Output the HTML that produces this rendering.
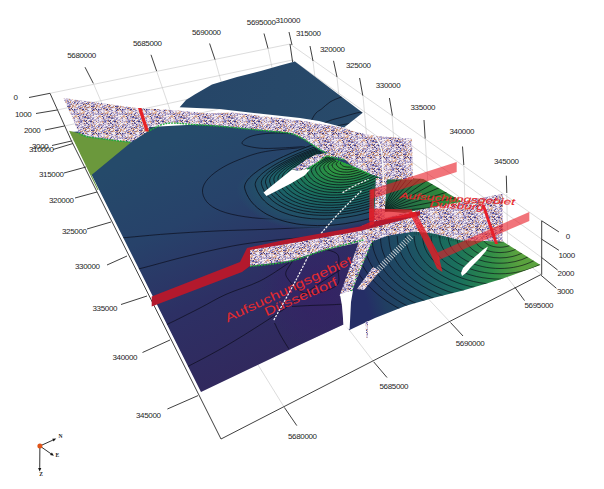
<!DOCTYPE html>
<html><head><meta charset="utf-8"><style>
html,body{margin:0;padding:0;background:#fff;}
svg{display:block;font-family:"Liberation Sans",sans-serif;}
</style></head><body>
<svg width="604" height="489" viewBox="0 0 604 489">
<rect width="604" height="489" fill="#fff"/>
<defs><clipPath id="cUP"><polygon points="179.7,107.2 186,100 194.7,94.4 212,84.4 237,77 261.7,70.8 280,65.5 294.9,61.5 362.7,112.7 344,127.5 319,121 300,118 259,113.5 219.5,109"/></clipPath><clipPath id="cMAIN"><polygon points="70,132 150,127 205,124 280,124 330,135 370,150 386,176 380,200 374,236 364,235 342,293.5 343.5,324.5 300,344.7 201,392"/></clipPath><clipPath id="cRR"><polygon points="195,122 270,131 286.6,132.5 299.8,136.6 309.7,143.2 318,149.8 324.6,154 336.2,159.8 352.8,166.4 370,173.8 385.6,179.5 380,200 374,224 369,223 287,240 247,246 195,246"/></clipPath><clipPath id="cRIGHT"><polygon points="349,330.3 347,300 352,290 372,239 376,238 388,233.5 413,229.5 434,233.6 460.7,240.2 503,241.5 540.5,265 500,279.5 463,290.5 435,297.5 406,305.7 375,318"/></clipPath><clipPath id="cDG"><polygon points="372,186 384,176.6 423.3,178.9 462.7,202 411.7,213.7 388.5,211.4 372,212"/></clipPath></defs>
<defs><pattern id="sp" width="24" height="24" patternUnits="userSpaceOnUse"><path d="M1 0h1v1h-1zM3 0h1v1h-1zM15 0h1v1h-1zM16 0h1v1h-1zM1 1h1v1h-1zM22 1h2v1h-2zM3 2h1v1h-1zM5 2h1v1h-1zM11 2h1v1h-1zM12 2h1v1h-1zM4 3h1v1h-1zM6 3h1v1h-1zM8 3h2v1h-2zM16 3h1v1h-1zM23 3h1v1h-1zM10 4h1v1h-1zM14 4h2v1h-2zM0 5h1v1h-1zM23 5h1v1h-1zM4 6h1v1h-1zM7 6h1v1h-1zM8 6h1v1h-1zM12 6h1v1h-1zM13 6h1v1h-1zM23 6h1v1h-1zM0 7h1v1h-1zM4 7h1v1h-1zM17 7h2v1h-2zM2 8h1v1h-1zM7 8h2v1h-2zM9 8h2v1h-2zM14 8h1v1h-1zM18 8h1v1h-1zM20 8h1v1h-1zM2 9h1v1h-1zM7 9h1v1h-1zM12 9h1v1h-1zM9 10h1v1h-1zM14 10h1v1h-1zM15 10h1v1h-1zM23 10h1v1h-1zM1 11h1v1h-1zM19 11h1v1h-1zM22 11h1v1h-1zM1 12h1v1h-1zM3 12h1v1h-1zM4 12h1v1h-1zM6 12h1v1h-1zM16 12h1v1h-1zM17 12h1v1h-1zM1 13h1v1h-1zM6 13h1v1h-1zM12 13h1v1h-1zM5 14h1v1h-1zM6 14h1v1h-1zM13 14h1v1h-1zM14 14h1v1h-1zM17 14h2v1h-2zM23 14h1v1h-1zM0 15h1v1h-1zM5 15h1v1h-1zM16 15h2v1h-2zM23 15h1v1h-1zM1 16h1v1h-1zM3 16h1v1h-1zM9 16h1v1h-1zM18 16h1v1h-1zM22 16h1v1h-1zM13 17h1v1h-1zM16 17h1v1h-1zM18 17h1v1h-1zM15 18h2v1h-2zM17 18h1v1h-1zM19 18h2v1h-2zM2 19h1v1h-1zM12 19h2v1h-2zM1 20h1v1h-1zM9 20h1v1h-1zM14 20h1v1h-1zM17 20h1v1h-1zM22 20h1v1h-1zM23 20h1v1h-1zM5 21h1v1h-1zM6 21h1v1h-1zM9 21h1v1h-1zM23 21h1v1h-1zM1 23h1v1h-1zM3 23h1v1h-1zM4 23h2v1h-2zM10 23h1v1h-1zM13 23h2v1h-2z" fill="#e8dee8"/><path d="M0 0h1v1h-1zM5 0h1v1h-1zM6 0h2v1h-2zM2 1h2v1h-2zM10 1h1v1h-1zM21 1h1v1h-1zM10 2h1v1h-1zM16 2h1v1h-1zM22 2h2v1h-2zM3 3h1v1h-1zM10 3h1v1h-1zM17 3h1v1h-1zM18 3h1v1h-1zM19 3h1v1h-1zM20 3h1v1h-1zM22 3h1v1h-1zM6 4h2v1h-2zM11 4h1v1h-1zM20 4h1v1h-1zM21 4h1v1h-1zM9 5h1v1h-1zM14 5h2v1h-2zM5 6h1v1h-1zM9 6h1v1h-1zM19 6h1v1h-1zM3 7h1v1h-1zM6 7h1v1h-1zM7 7h1v1h-1zM21 7h2v1h-2zM0 8h1v1h-1zM1 8h1v1h-1zM3 8h1v1h-1zM19 8h1v1h-1zM6 9h1v1h-1zM10 9h1v1h-1zM17 9h1v1h-1zM19 9h1v1h-1zM16 10h1v1h-1zM2 11h1v1h-1zM7 11h1v1h-1zM2 12h1v1h-1zM10 12h1v1h-1zM12 12h1v1h-1zM15 12h1v1h-1zM4 14h1v1h-1zM7 14h2v1h-2zM19 14h1v1h-1zM3 15h1v1h-1zM7 15h1v1h-1zM8 15h1v1h-1zM14 15h2v1h-2zM18 15h1v1h-1zM20 15h1v1h-1zM21 15h1v1h-1zM4 16h1v1h-1zM7 16h1v1h-1zM23 16h1v1h-1zM0 17h1v1h-1zM12 17h1v1h-1zM1 18h1v1h-1zM3 18h1v1h-1zM7 18h1v1h-1zM10 18h1v1h-1zM12 18h1v1h-1zM22 18h1v1h-1zM9 19h2v1h-2zM7 20h2v1h-2zM19 20h1v1h-1zM3 21h1v1h-1zM8 21h1v1h-1zM20 21h1v1h-1zM22 21h1v1h-1zM8 22h1v1h-1zM9 22h1v1h-1zM11 22h1v1h-1zM0 23h1v1h-1zM2 23h1v1h-1zM6 23h1v1h-1zM11 23h1v1h-1zM15 23h1v1h-1zM21 23h1v1h-1zM22 23h1v1h-1z" fill="#d0c4de"/><path d="M13 0h1v1h-1zM22 0h1v1h-1zM23 0h1v1h-1zM4 1h2v1h-2zM1 2h1v1h-1zM2 2h1v1h-1zM18 2h1v1h-1zM19 2h1v1h-1zM8 4h2v1h-2zM13 4h1v1h-1zM17 4h1v1h-1zM22 4h2v1h-2zM1 5h1v1h-1zM2 5h1v1h-1zM4 5h2v1h-2zM6 5h1v1h-1zM16 5h2v1h-2zM11 6h1v1h-1zM8 7h1v1h-1zM13 7h1v1h-1zM15 7h1v1h-1zM23 7h1v1h-1zM5 8h1v1h-1zM20 9h1v1h-1zM22 9h1v1h-1zM1 10h1v1h-1zM8 10h1v1h-1zM4 11h2v1h-2zM9 12h1v1h-1zM11 12h1v1h-1zM14 12h1v1h-1zM21 12h1v1h-1zM15 13h1v1h-1zM20 13h1v1h-1zM3 14h1v1h-1zM11 14h1v1h-1zM12 14h1v1h-1zM4 15h1v1h-1zM15 16h1v1h-1zM1 17h2v1h-2zM3 17h1v1h-1zM4 17h1v1h-1zM8 17h1v1h-1zM14 17h1v1h-1zM17 17h1v1h-1zM19 17h1v1h-1zM20 17h2v1h-2zM23 17h1v1h-1zM4 18h1v1h-1zM23 18h1v1h-1zM16 19h1v1h-1zM17 19h1v1h-1zM18 19h1v1h-1zM20 19h1v1h-1zM0 20h1v1h-1zM15 20h1v1h-1zM16 20h1v1h-1zM2 21h1v1h-1zM10 21h2v1h-2zM17 21h2v1h-2zM19 21h1v1h-1zM21 21h1v1h-1zM1 22h1v1h-1zM10 22h1v1h-1zM18 22h1v1h-1zM7 23h1v1h-1zM12 23h1v1h-1zM18 23h1v1h-1zM19 23h1v1h-1zM23 23h1v1h-1z" fill="#b4a6c8"/><path d="M2 0h1v1h-1zM8 0h1v1h-1zM9 0h2v1h-2zM18 0h2v1h-2zM7 1h1v1h-1zM8 1h1v1h-1zM16 1h2v1h-2zM8 2h1v1h-1zM9 2h1v1h-1zM3 4h2v1h-2zM19 4h1v1h-1zM7 5h1v1h-1zM12 5h2v1h-2zM19 5h1v1h-1zM0 6h1v1h-1zM3 6h1v1h-1zM6 6h1v1h-1zM10 6h1v1h-1zM16 6h1v1h-1zM20 6h1v1h-1zM21 6h1v1h-1zM2 7h1v1h-1zM9 7h2v1h-2zM12 7h1v1h-1zM19 7h2v1h-2zM15 8h1v1h-1zM21 8h2v1h-2zM8 9h2v1h-2zM21 9h1v1h-1zM6 10h2v1h-2zM12 10h1v1h-1zM6 11h1v1h-1zM10 11h1v1h-1zM14 11h1v1h-1zM19 12h2v1h-2zM3 13h2v1h-2zM5 13h1v1h-1zM22 13h1v1h-1zM1 14h2v1h-2zM15 14h2v1h-2zM2 15h1v1h-1zM13 15h1v1h-1zM19 15h1v1h-1zM5 16h1v1h-1zM16 16h1v1h-1zM20 16h2v1h-2zM7 17h1v1h-1zM0 18h1v1h-1zM2 18h1v1h-1zM9 18h1v1h-1zM18 18h1v1h-1zM21 18h1v1h-1zM8 19h1v1h-1zM21 19h1v1h-1zM11 20h2v1h-2zM14 21h2v1h-2zM2 22h1v1h-1zM17 22h1v1h-1zM20 22h1v1h-1zM21 22h1v1h-1zM8 23h1v1h-1zM20 23h1v1h-1z" fill="#9088bc"/><path d="M12 0h1v1h-1zM9 1h1v1h-1zM14 2h1v1h-1zM21 2h1v1h-1zM7 3h1v1h-1zM12 3h1v1h-1zM14 3h2v1h-2zM2 6h1v1h-1zM16 7h1v1h-1zM13 10h1v1h-1zM20 10h1v1h-1zM21 10h1v1h-1zM7 12h2v1h-2zM2 16h1v1h-1zM15 17h1v1h-1zM5 18h2v1h-2zM11 18h1v1h-1zM14 18h1v1h-1zM7 21h1v1h-1zM12 21h2v1h-2zM7 22h1v1h-1zM15 22h2v1h-2z" fill="#5c58a0"/><path d="M14 0h1v1h-1zM13 1h1v1h-1zM18 1h2v1h-2zM16 4h1v1h-1zM5 7h1v1h-1zM14 7h1v1h-1zM11 8h1v1h-1zM19 10h1v1h-1zM23 12h1v1h-1zM0 13h1v1h-1zM2 13h1v1h-1zM10 13h2v1h-2zM21 13h1v1h-1zM20 14h1v1h-1zM6 20h1v1h-1zM13 20h1v1h-1z" fill="#3c3880"/><path d="M21 0h1v1h-1zM11 1h1v1h-1zM14 1h1v1h-1zM4 2h1v1h-1zM6 2h1v1h-1zM7 2h1v1h-1zM15 2h1v1h-1zM20 2h1v1h-1zM0 3h1v1h-1zM11 3h1v1h-1zM13 3h1v1h-1zM2 4h1v1h-1zM12 4h1v1h-1zM18 4h1v1h-1zM18 5h1v1h-1zM18 6h1v1h-1zM11 7h1v1h-1zM6 8h1v1h-1zM3 9h2v1h-2zM11 9h1v1h-1zM18 9h1v1h-1zM2 10h2v1h-2zM10 10h2v1h-2zM3 11h1v1h-1zM13 11h1v1h-1zM17 11h2v1h-2zM23 11h1v1h-1zM13 12h1v1h-1zM22 12h1v1h-1zM7 13h1v1h-1zM8 13h2v1h-2zM19 13h1v1h-1zM23 13h1v1h-1zM0 14h1v1h-1zM9 14h1v1h-1zM11 15h2v1h-2zM8 16h1v1h-1zM10 16h1v1h-1zM11 16h2v1h-2zM17 16h1v1h-1zM19 16h1v1h-1zM5 17h1v1h-1zM10 17h1v1h-1zM22 17h1v1h-1zM8 18h1v1h-1zM13 18h1v1h-1zM3 19h2v1h-2zM11 19h1v1h-1zM19 19h1v1h-1zM2 20h1v1h-1zM4 20h2v1h-2zM4 21h1v1h-1zM0 22h1v1h-1zM5 22h1v1h-1zM6 22h1v1h-1zM12 22h1v1h-1zM13 22h2v1h-2zM9 23h1v1h-1z" fill="#e0b6a2"/><path d="M11 0h1v1h-1zM17 0h1v1h-1zM6 1h1v1h-1zM12 1h1v1h-1zM20 1h1v1h-1zM21 3h1v1h-1zM5 4h1v1h-1zM3 5h1v1h-1zM22 5h1v1h-1zM15 6h1v1h-1zM22 6h1v1h-1zM1 7h1v1h-1zM12 8h2v1h-2zM16 8h2v1h-2zM0 9h1v1h-1zM1 9h1v1h-1zM14 9h1v1h-1zM0 10h1v1h-1zM17 10h1v1h-1zM0 11h1v1h-1zM8 11h2v1h-2zM12 11h1v1h-1zM20 11h1v1h-1zM5 12h1v1h-1zM21 14h2v1h-2zM1 15h1v1h-1zM6 17h1v1h-1zM9 17h1v1h-1zM11 17h1v1h-1zM7 19h1v1h-1zM15 19h1v1h-1zM3 20h1v1h-1zM18 20h1v1h-1zM1 21h1v1h-1z" fill="#c89276"/><path d="M0 1h1v1h-1zM20 5h1v1h-1zM17 6h1v1h-1zM4 8h1v1h-1zM23 8h1v1h-1zM13 9h1v1h-1zM22 10h1v1h-1zM15 11h2v1h-2zM21 11h1v1h-1zM13 13h2v1h-2zM10 14h1v1h-1zM14 19h1v1h-1zM10 20h1v1h-1zM16 21h1v1h-1z" fill="#a8786c"/><path d="M4 0h1v1h-1zM20 0h1v1h-1zM15 1h1v1h-1zM0 2h1v1h-1zM13 2h1v1h-1zM17 2h1v1h-1zM1 3h1v1h-1zM2 3h1v1h-1zM5 3h1v1h-1zM0 4h2v1h-2zM8 5h1v1h-1zM10 5h1v1h-1zM11 5h1v1h-1zM21 5h1v1h-1zM1 6h1v1h-1zM14 6h1v1h-1zM5 9h1v1h-1zM15 9h2v1h-2zM23 9h1v1h-1zM4 10h2v1h-2zM18 10h1v1h-1zM11 11h1v1h-1zM0 12h1v1h-1zM18 12h1v1h-1zM16 13h1v1h-1zM17 13h2v1h-2zM6 15h1v1h-1zM9 15h2v1h-2zM22 15h1v1h-1zM0 16h1v1h-1zM6 16h1v1h-1zM13 16h1v1h-1zM14 16h1v1h-1zM0 19h2v1h-2zM5 19h1v1h-1zM6 19h1v1h-1zM22 19h2v1h-2zM20 20h2v1h-2zM0 21h1v1h-1zM3 22h2v1h-2zM19 22h1v1h-1zM22 22h1v1h-1zM23 22h1v1h-1zM16 23h2v1h-2z" fill="#f6f0f2"/></pattern>
<linearGradient id="gMain" gradientUnits="userSpaceOnUse" x1="150" y1="150" x2="260" y2="390">
 <stop offset="0" stop-color="#254a6a"/>
 <stop offset="0.3" stop-color="#27426a"/>
 <stop offset="0.6" stop-color="#2d3064"/>
 <stop offset="1" stop-color="#32275c"/>
</linearGradient>
<linearGradient id="gRight" gradientUnits="userSpaceOnUse" x1="362" y1="285" x2="515" y2="245">
 <stop offset="0" stop-color="#252e66"/>
 <stop offset="0.11" stop-color="#213e62"/>
 <stop offset="0.34" stop-color="#1d5064"/>
 <stop offset="0.61" stop-color="#1a705c"/>
 <stop offset="0.82" stop-color="#2e8c48"/>
 <stop offset="1" stop-color="#5aa23e"/>
</linearGradient>
<linearGradient id="gMidG" gradientUnits="userSpaceOnUse" x1="280" y1="215" x2="370" y2="160">
 <stop offset="0" stop-color="#1c4a5c"/>
 <stop offset="0.5" stop-color="#1d6a4e"/>
 <stop offset="1" stop-color="#3a8a36"/>
</linearGradient>
<linearGradient id="gUp" gradientUnits="userSpaceOnUse" x1="200" y1="80" x2="350" y2="125">
 <stop offset="0" stop-color="#264668"/>
 <stop offset="1" stop-color="#284a6a"/>
</linearGradient>
<radialGradient id="gBowlL" gradientUnits="userSpaceOnUse" cx="352" cy="160" r="120" gradientTransform="translate(352 160) rotate(-15) scale(1 0.55) translate(-352 -160)">
 <stop offset="0" stop-color="#3aa040"/>
 <stop offset="0.2" stop-color="#2c9442"/>
 <stop offset="0.36" stop-color="#1f8050"/>
 <stop offset="0.52" stop-color="#1a6e60"/>
 <stop offset="0.67" stop-color="#1c6068"/>
 <stop offset="0.82" stop-color="#225068"/>
 <stop offset="0.93" stop-color="#244969" stop-opacity="0.75"/>
 <stop offset="1" stop-color="#254a6a" stop-opacity="0"/>
</radialGradient><radialGradient id="gBowlU" gradientUnits="userSpaceOnUse" cx="352" cy="160" r="120" gradientTransform="translate(352 160) rotate(-15) scale(1 0.235) translate(-352 -160)">
 <stop offset="0" stop-color="#3aa040"/>
 <stop offset="0.2" stop-color="#2c9442"/>
 <stop offset="0.36" stop-color="#1f8050"/>
 <stop offset="0.52" stop-color="#1a6e60"/>
 <stop offset="0.67" stop-color="#1c6068"/>
 <stop offset="0.82" stop-color="#225068"/>
 <stop offset="0.93" stop-color="#244969" stop-opacity="0.75"/>
 <stop offset="1" stop-color="#254a6a" stop-opacity="0"/>
</radialGradient>
<linearGradient id="gRG" gradientUnits="userSpaceOnUse" x1="500" y1="245" x2="520" y2="275">
 <stop offset="0" stop-color="#8ab040"/>
 <stop offset="1" stop-color="#3a8a40"/>
</linearGradient>
<linearGradient id="gDG" gradientUnits="userSpaceOnUse" x1="380" y1="210" x2="440" y2="185">
 <stop offset="0" stop-color="#1d5c50"/>
 <stop offset="1" stop-color="#2f8a3a"/>
</linearGradient>
<radialGradient id="gViol" gradientUnits="userSpaceOnUse" cx="318" cy="290" r="62">
 <stop offset="0" stop-color="#381e66" stop-opacity="0.7"/>
 <stop offset="0.6" stop-color="#352266" stop-opacity="0.45"/>
 <stop offset="1" stop-color="#322466" stop-opacity="0"/>
</radialGradient>
<filter id="blr" x="-5%" y="-5%" width="110%" height="110%"><feGaussianBlur stdDeviation="0.35"/></filter>
<radialGradient id="gTeal" gradientUnits="userSpaceOnUse" cx="322" cy="154" r="30">
 <stop offset="0" stop-color="#1f6a52" stop-opacity="0.95"/>
 <stop offset="0.5" stop-color="#1d5458" stop-opacity="0.6"/>
 <stop offset="1" stop-color="#1f3d5f" stop-opacity="0"/>
</radialGradient>
</defs><line x1="50" y1="93.3" x2="290" y2="44" stroke="#c4c4c4" stroke-width="0.6" /><line x1="57.2" y1="110" x2="292.5" y2="60" stroke="#c4c4c4" stroke-width="0.6" /><line x1="64.4" y1="126" x2="295" y2="76" stroke="#c4c4c4" stroke-width="0.6" /><line x1="71.5" y1="141" x2="297.5" y2="92" stroke="#c4c4c4" stroke-width="0.6" /><line x1="290" y1="44" x2="541.7" y2="220.8" stroke="#c4c4c4" stroke-width="0.6" /><line x1="292.5" y1="60" x2="541.7" y2="239.2" stroke="#c4c4c4" stroke-width="0.6" /><line x1="295" y1="76" x2="541.7" y2="257.6" stroke="#c4c4c4" stroke-width="0.6" /><line x1="297.5" y1="92" x2="541.7" y2="274.8" stroke="#c4c4c4" stroke-width="0.6" /><line x1="93.3" y1="83.3" x2="113.8" y2="131.3" stroke="#c4c4c4" stroke-width="0.6" /><line x1="156.6" y1="71" x2="173.1" y2="119" stroke="#c4c4c4" stroke-width="0.6" /><line x1="215" y1="59.6" x2="228.3" y2="107.6" stroke="#c4c4c4" stroke-width="0.6" /><line x1="268" y1="48.4" x2="278" y2="96.4" stroke="#c4c4c4" stroke-width="0.6" /><line x1="313" y1="61" x2="319" y2="111" stroke="#c4c4c4" stroke-width="0.6" /><line x1="337" y1="77" x2="342" y2="127" stroke="#c4c4c4" stroke-width="0.6" /><line x1="363" y1="96" x2="367.5" y2="146" stroke="#c4c4c4" stroke-width="0.6" /><line x1="392" y1="115" x2="395.5" y2="165" stroke="#c4c4c4" stroke-width="0.6" /><line x1="425.2" y1="138.5" x2="428.2" y2="188.5" stroke="#c4c4c4" stroke-width="0.6" /><line x1="463.8" y1="165.5" x2="465.3" y2="215.5" stroke="#c4c4c4" stroke-width="0.6" /><line x1="506.8" y1="194" x2="507.6" y2="244" stroke="#c4c4c4" stroke-width="0.6" /><line x1="255" y1="360" x2="284.4" y2="407.5" stroke="#c4c4c4" stroke-width="0.6" /><line x1="340" y1="318" x2="373.8" y2="362" stroke="#c4c4c4" stroke-width="0.6" /><line x1="420" y1="290" x2="450.5" y2="322.5" stroke="#c4c4c4" stroke-width="0.6" /><line x1="500" y1="268" x2="514.7" y2="287" stroke="#c4c4c4" stroke-width="0.6" /><line x1="50" y1="93.3" x2="71.5" y2="141" stroke="#2a2a2a" stroke-width="0.9" /><line x1="71.5" y1="141" x2="221" y2="439" stroke="#2a2a2a" stroke-width="0.9" /><line x1="221" y1="439" x2="540.5" y2="274.8" stroke="#2a2a2a" stroke-width="0.9" /><line x1="541.7" y1="220.8" x2="541.7" y2="274.8" stroke="#2a2a2a" stroke-width="0.9" /><line x1="290" y1="44" x2="292.6" y2="62" stroke="#2a2a2a" stroke-width="0.9" /><line x1="29" y1="97.5" x2="50" y2="93.3" stroke="#2a2a2a" stroke-width="0.9" /><line x1="36" y1="113.5" x2="57.2" y2="110" stroke="#2a2a2a" stroke-width="0.9" /><line x1="45" y1="130" x2="64.4" y2="126" stroke="#2a2a2a" stroke-width="0.9" /><line x1="52" y1="145.5" x2="71.5" y2="141" stroke="#2a2a2a" stroke-width="0.9" /><line x1="53" y1="149.5" x2="73" y2="143.5" stroke="#2a2a2a" stroke-width="0.9" /><line x1="64" y1="173" x2="86" y2="167" stroke="#2a2a2a" stroke-width="0.9" /><line x1="75" y1="198" x2="97" y2="192" stroke="#2a2a2a" stroke-width="0.9" /><line x1="87" y1="229" x2="111" y2="222" stroke="#2a2a2a" stroke-width="0.9" /><line x1="107" y1="265" x2="127" y2="256" stroke="#2a2a2a" stroke-width="0.9" /><line x1="121" y1="304.5" x2="147" y2="296" stroke="#2a2a2a" stroke-width="0.9" /><line x1="142.5" y1="352.5" x2="170" y2="340" stroke="#2a2a2a" stroke-width="0.9" /><line x1="167.4" y1="409" x2="198" y2="395.6" stroke="#2a2a2a" stroke-width="0.9" /><line x1="284.4" y1="407.5" x2="296.8" y2="425.6" stroke="#2a2a2a" stroke-width="0.9" /><line x1="373.8" y1="362" x2="387" y2="377.5" stroke="#2a2a2a" stroke-width="0.9" /><line x1="450.5" y1="322.5" x2="463" y2="336" stroke="#2a2a2a" stroke-width="0.9" /><line x1="514.7" y1="287" x2="524.5" y2="300.6" stroke="#2a2a2a" stroke-width="0.9" /><line x1="541.7" y1="220.8" x2="558.9" y2="231.9" stroke="#2a2a2a" stroke-width="0.9" /><line x1="541.7" y1="239.2" x2="558.9" y2="250.3" stroke="#2a2a2a" stroke-width="0.9" /><line x1="541.7" y1="257.6" x2="557.6" y2="270" stroke="#2a2a2a" stroke-width="0.9" /><line x1="540.5" y1="274.8" x2="556.4" y2="288.3" stroke="#2a2a2a" stroke-width="0.9" /><line x1="85" y1="67.2" x2="93.3" y2="83.3" stroke="#2a2a2a" stroke-width="0.9" /><line x1="151" y1="54.8" x2="156.6" y2="71" stroke="#2a2a2a" stroke-width="0.9" /><line x1="209.6" y1="43.5" x2="215" y2="59.6" stroke="#2a2a2a" stroke-width="0.9" /><line x1="264" y1="33.5" x2="268" y2="48.4" stroke="#2a2a2a" stroke-width="0.9" /><line x1="289" y1="32" x2="292" y2="45" stroke="#2a2a2a" stroke-width="0.9" /><line x1="310" y1="46" x2="313" y2="61" stroke="#2a2a2a" stroke-width="0.9" /><line x1="333.5" y1="60.8" x2="337" y2="77" stroke="#2a2a2a" stroke-width="0.9" /><line x1="359.6" y1="78" x2="362.8" y2="95.6" stroke="#2a2a2a" stroke-width="0.9" /><line x1="389.4" y1="98" x2="392.4" y2="115.5" stroke="#2a2a2a" stroke-width="0.9" /><line x1="424" y1="120" x2="425.2" y2="138.5" stroke="#2a2a2a" stroke-width="0.9" /><line x1="462.5" y1="146.5" x2="463.8" y2="165" stroke="#2a2a2a" stroke-width="0.9" /><line x1="506.3" y1="175.7" x2="506.8" y2="193" stroke="#2a2a2a" stroke-width="0.9" /><polygon points="179.7,107.2 186,100 194.7,94.4 212,84.4 237,77 261.7,70.8 280,65.5 294.9,61.5 362.7,112.7 344,127.5 319,121 300,118 259,113.5 219.5,109" fill="url(#gUp)" /><g clip-path="url(#cUP)"><path d="M311.0,121.0 C311.8,119.7 314.2,115.0 316.0,113.0 C317.8,111.0 319.5,110.6 321.8,108.8 C324.1,107.0 326.8,104.0 330.0,102.0 C333.2,100.0 337.5,98.5 341.2,97.0 C344.9,95.5 350.2,93.7 352.0,93.0" fill="none" stroke="#0a0a14" stroke-width="0.7" stroke-opacity="0.9"/><path d="M321.8,124.5 C323.2,123.8 326.8,121.7 330.0,120.5 C333.2,119.3 336.8,118.6 341.2,117.4 C345.6,116.2 351.7,114.2 356.2,113.1 C360.7,112.0 366.0,111.3 368.0,111.0" fill="none" stroke="#0a0a14" stroke-width="0.7" stroke-opacity="0.9"/><path d="M334.7,127.0 C335.8,126.7 338.9,125.5 341.0,125.0 C343.1,124.5 344.4,124.4 347.6,123.9 C350.8,123.4 357.9,122.3 360.0,122.0" fill="none" stroke="#0a0a14" stroke-width="0.7" stroke-opacity="0.9"/></g><polygon points="70,132 150,127 205,124 280,124 330,135 370,150 386,176 380,200 374,236 364,235 342,293.5 343.5,324.5 300,344.7 201,392" fill="url(#gMain)" /><polygon points="255,250 345,228 372,236 342,293.5 343.5,324.5 300,344.7 250,352" fill="url(#gViol)" /><g clip-path="url(#cMAIN)"><path d="M305.0,135.0 C301.7,134.7 292.0,133.4 285.4,133.2 C278.8,132.9 271.7,132.9 265.6,133.5 C259.5,134.1 252.9,135.2 249.0,137.0 C245.1,138.8 240.7,142.2 242.4,144.0 C244.1,145.8 252.9,147.4 259.0,148.1 C265.1,148.8 271.1,148.4 278.8,148.1 C286.5,147.8 300.6,146.8 305.0,146.5" fill="none" stroke="#0a0a14" stroke-width="0.7" stroke-opacity="0.9"/><path d="M310.0,147.0 C302.6,147.8 277.4,149.4 265.6,151.5 C253.8,153.6 246.8,156.7 239.0,159.7 C231.2,162.7 224.5,166.1 219.0,169.7 C213.5,173.3 208.7,177.5 206.0,181.3 C203.3,185.2 202.0,189.0 202.6,192.8 C203.2,196.7 205.4,201.1 209.3,204.4 C213.2,207.7 218.6,210.5 225.8,212.7 C233.0,214.9 242.9,216.6 252.3,217.7 C261.7,218.8 270.7,218.9 282.0,219.3 C293.3,219.7 313.7,219.9 320.0,220.0" fill="none" stroke="#0a0a14" stroke-width="0.7" stroke-opacity="0.9"/><path d="M110.0,239.0 C112.8,238.8 117.2,238.3 126.5,237.5 C135.8,236.7 151.1,235.1 166.0,234.0 C180.9,232.9 199.4,231.8 216.0,231.0 C232.6,230.2 248.3,230.0 265.6,229.3 C282.9,228.6 310.9,227.4 320.0,227.0" fill="none" stroke="#0a0a14" stroke-width="0.7" stroke-opacity="0.9"/><path d="M125.0,271.0 C127.5,270.6 130.3,270.9 140.0,268.6 C149.7,266.3 167.6,261.0 183.0,257.2 C198.4,253.4 217.1,248.9 232.5,246.0 C247.9,243.1 264.2,241.3 275.5,240.0 C286.8,238.7 295.9,238.3 300.0,238.0" fill="none" stroke="#0a0a14" stroke-width="0.7" stroke-opacity="0.9"/><path d="M150.0,331.0 C152.8,329.9 158.7,328.2 167.0,324.4 C175.3,320.6 190.2,313.0 200.0,308.0 C209.8,303.0 215.9,298.9 225.9,294.4 C235.9,289.9 249.5,286.2 260.0,281.0 C270.5,275.8 284.0,266.0 288.8,263.0" fill="none" stroke="#0a0a14" stroke-width="0.7" stroke-opacity="0.9"/><path d="M175.0,372.0 C177.3,371.0 180.2,370.3 188.7,366.0 C197.2,361.7 213.5,353.2 225.9,346.0 C238.3,338.8 252.5,329.7 263.0,323.0 C273.5,316.3 281.0,311.3 288.8,305.8 C296.6,300.3 301.5,296.0 310.0,290.0 C318.5,284.0 335.0,273.3 340.0,270.0" fill="none" stroke="#0a0a14" stroke-width="0.7" stroke-opacity="0.9"/><path d="M274.5,323.0 C275.6,325.2 278.6,331.7 281.0,336.0 C283.4,340.3 287.5,346.7 288.8,348.8" fill="none" stroke="#0a0a14" stroke-width="0.7" stroke-opacity="0.9"/><path d="M292.0,306.5 C295.0,306.3 303.7,305.8 310.0,305.5 C316.3,305.2 324.2,305.1 330.0,304.8 C335.8,304.6 342.5,304.1 345.0,304.0" fill="none" stroke="#0a0a14" stroke-width="0.7" stroke-opacity="0.9"/><path d="M288.0,268.0 C291.1,263.1 298.6,251.9 306.6,249.4 C314.6,246.9 330.8,249.6 336.0,253.0 C341.2,256.4 338.0,264.5 338.0,270.0 C338.0,275.5 341.2,282.1 336.0,286.0 C330.8,289.9 314.6,294.8 306.6,293.6 C298.6,292.4 291.1,283.3 288.0,279.0 C284.9,274.7 284.9,272.9 288.0,268.0Z" fill="none" stroke="#0a0a14" stroke-width="0.7" stroke-opacity="0.9"/></g><g transform="translate(227.5 322.5) rotate(-25.3)"><text x="0" y="0" font-size="12.3" fill="#e42a2e" transform="scale(1.33 1)">Aufsuchungsgebiet</text></g><g transform="translate(266.5 316.2) rotate(-23.5)"><text x="0" y="0" font-size="12.3" fill="#e42a2e" transform="scale(1.33 1)">Düsseldorf</text></g><polygon points="342.862,162.449 352.8,166.4 370,173.8 385.6,179.5 380,200 374,224 369,223 287,240 247,246 195,246 195,202.068" fill="url(#gBowlL)" /><polygon points="195,122 270,131 286.6,132.5 299.8,136.6 309.7,143.2 318,149.8 324.6,154 336.2,159.8 342.862,162.449 195,202.068" fill="url(#gBowlU)" /><g clip-path="url(#cRR)"><path d="M363.6,156.9 C363.6,157.0 363.7,157.3 363.7,157.6 C363.7,157.8 363.7,158.0 363.7,158.3 C363.7,158.5 363.6,158.8 363.6,159.0 C363.5,159.3 363.4,159.5 363.3,159.8 C363.2,160.0 363.0,160.3 362.9,160.5 C362.7,160.7 362.6,161.0 362.4,161.2 C362.2,161.5 362.0,161.7 361.8,162.0 C361.5,162.2 361.3,162.4 361.0,162.7 C360.8,162.9 360.5,163.1 360.2,163.3 C359.9,163.6 359.6,163.8 359.3,164.0 C359.0,164.2 358.6,164.4 358.3,164.6 C357.9,164.7 357.6,164.9 357.2,165.1 C356.8,165.3 356.5,165.4 356.1,165.6 C355.7,165.7 355.3,165.9 354.9,166.0 C354.5,166.1 354.1,166.3 353.7,166.4 C353.3,166.5 352.9,166.6 352.5,166.7 C352.1,166.7 351.7,166.8 351.3,166.9 C350.9,166.9 350.4,167.0 350.0,167.0 C349.6,167.1 349.2,167.1 348.8,167.1 C348.5,167.1 348.1,167.1 347.7,167.1 C347.3,167.1 346.9,167.0 346.6,167.0 C346.2,166.9 345.9,166.9 345.5,166.8 C345.2,166.7 344.8,166.7 344.5,166.6 C344.2,166.5 343.9,166.4 343.6,166.3 C343.3,166.1 343.1,166.0 342.8,165.9 C342.6,165.7 342.3,165.6 342.1,165.4 C341.9,165.3 341.7,165.1 341.5,164.9 C341.3,164.7 341.2,164.6 341.0,164.4 C340.9,164.2 340.8,164.0 340.7,163.8 C340.5,163.5 340.5,163.3 340.4,163.1 C340.4,162.9 340.4,162.9 340.4,162.8 C340.4,162.7 340.5,162.6 340.5,162.5 C340.6,162.4 340.7,162.2 340.8,162.1 C340.9,162.0 341.0,161.9 341.1,161.7 C341.3,161.6 341.4,161.5 341.6,161.3 C341.8,161.2 342.0,161.1 342.2,160.9 C342.4,160.8 342.6,160.6 342.9,160.5 C343.1,160.3 343.4,160.2 343.7,160.1 C344.0,159.9 344.3,159.8 344.6,159.6 C344.9,159.5 345.2,159.3 345.6,159.2 C345.9,159.1 346.3,158.9 346.6,158.8 C347.0,158.6 347.3,158.5 347.7,158.4 C348.1,158.2 348.5,158.1 348.9,158.0 C349.3,157.9 349.7,157.7 350.1,157.6 C350.5,157.5 350.9,157.4 351.3,157.3 C351.7,157.2 352.1,157.1 352.5,157.0 C352.9,156.9 353.3,156.8 353.7,156.7 C354.1,156.6 354.5,156.5 354.9,156.4 C355.3,156.4 355.7,156.3 356.0,156.2 C356.4,156.2 356.8,156.1 357.2,156.1 C357.5,156.0 357.9,156.0 358.2,156.0 C358.6,155.9 358.9,155.9 359.2,155.9 C359.5,155.9 359.8,155.9 360.1,155.9 C360.4,155.9 360.7,155.9 360.9,155.9 C361.2,155.9 361.4,155.9 361.7,155.9 C361.9,156.0 362.1,156.0 362.3,156.1 C362.5,156.1 362.6,156.1 362.8,156.2 C362.9,156.3 363.1,156.3 363.2,156.4 C363.3,156.5 363.4,156.5 363.5,156.6 C363.5,156.7 363.6,156.8 363.6,156.9" fill="none" stroke="#0a0a14" stroke-width="0.85" stroke-opacity="0.9"/><path d="M367.7,155.8 C367.8,155.9 367.9,156.4 367.9,156.7 C367.9,157.0 367.9,157.3 367.9,157.7 C367.8,158.0 367.8,158.3 367.7,158.7 C367.6,159.0 367.5,159.3 367.3,159.7 C367.2,160.0 367.0,160.3 366.8,160.7 C366.6,161.0 366.4,161.3 366.1,161.7 C365.8,162.0 365.6,162.3 365.3,162.7 C364.9,163.0 364.6,163.3 364.3,163.6 C363.9,163.9 363.5,164.2 363.1,164.5 C362.7,164.8 362.3,165.1 361.9,165.4 C361.4,165.7 361.0,165.9 360.5,166.2 C360.1,166.5 359.6,166.7 359.1,166.9 C358.6,167.2 358.1,167.4 357.5,167.6 C357.0,167.8 356.5,168.0 356.0,168.2 C355.4,168.3 354.9,168.5 354.3,168.7 C353.8,168.8 353.2,168.9 352.7,169.1 C352.1,169.2 351.5,169.3 351.0,169.3 C350.4,169.4 349.9,169.5 349.3,169.5 C348.8,169.6 348.2,169.6 347.7,169.6 C347.2,169.6 346.7,169.6 346.1,169.6 C345.6,169.6 345.1,169.5 344.6,169.5 C344.1,169.4 343.7,169.4 343.2,169.3 C342.7,169.2 342.3,169.1 341.9,168.9 C341.4,168.8 341.0,168.7 340.6,168.5 C340.2,168.3 339.9,168.2 339.5,168.0 C339.2,167.8 338.9,167.6 338.6,167.4 C338.3,167.2 338.0,166.9 337.7,166.7 C337.5,166.4 337.3,166.2 337.1,165.9 C336.9,165.7 336.7,165.4 336.6,165.1 C336.4,164.8 336.3,164.4 336.3,164.2 C336.2,164.0 336.2,164.0 336.2,163.8 C336.3,163.7 336.3,163.5 336.4,163.4 C336.5,163.2 336.6,163.0 336.7,162.9 C336.9,162.7 337.0,162.5 337.2,162.3 C337.4,162.2 337.6,162.0 337.9,161.8 C338.1,161.6 338.4,161.4 338.7,161.2 C339.0,161.0 339.3,160.9 339.6,160.7 C340.0,160.5 340.3,160.3 340.7,160.1 C341.1,159.9 341.5,159.7 341.9,159.5 C342.4,159.3 342.8,159.1 343.3,158.9 C343.7,158.7 344.2,158.5 344.7,158.3 C345.2,158.1 345.7,158.0 346.2,157.8 C346.7,157.6 347.2,157.4 347.8,157.3 C348.3,157.1 348.8,156.9 349.4,156.8 C349.9,156.6 350.5,156.4 351.0,156.3 C351.6,156.2 352.1,156.0 352.7,155.9 C353.2,155.7 353.8,155.6 354.3,155.5 C354.8,155.4 355.4,155.3 355.9,155.2 C356.5,155.1 357.0,155.0 357.5,154.9 C358.0,154.8 358.5,154.7 359.0,154.7 C359.5,154.6 360.0,154.6 360.5,154.5 C360.9,154.5 361.4,154.5 361.8,154.4 C362.2,154.4 362.6,154.4 363.0,154.4 C363.4,154.4 363.8,154.4 364.2,154.4 C364.5,154.4 364.8,154.5 365.1,154.5 C365.4,154.5 365.7,154.6 366.0,154.6 C366.2,154.7 366.5,154.8 366.7,154.8 C366.9,154.9 367.0,155.0 367.2,155.1 C367.3,155.2 367.5,155.3 367.6,155.4 C367.6,155.5 367.7,155.7 367.7,155.8" fill="none" stroke="#0a0a14" stroke-width="0.85" stroke-opacity="0.9"/><path d="M371.9,154.7 C371.9,154.9 372.1,155.4 372.1,155.8 C372.1,156.2 372.1,156.6 372.1,157.1 C372.0,157.5 371.9,157.9 371.8,158.3 C371.7,158.7 371.6,159.2 371.4,159.6 C371.2,160.0 371.0,160.4 370.7,160.9 C370.4,161.3 370.1,161.7 369.8,162.1 C369.5,162.5 369.1,163.0 368.7,163.4 C368.4,163.8 367.9,164.2 367.5,164.6 C367.0,165.0 366.6,165.3 366.1,165.7 C365.6,166.1 365.0,166.5 364.5,166.8 C363.9,167.2 363.4,167.5 362.8,167.8 C362.2,168.2 361.6,168.5 360.9,168.8 C360.3,169.1 359.7,169.3 359.0,169.6 C358.3,169.9 357.7,170.1 357.0,170.3 C356.3,170.6 355.6,170.8 354.9,170.9 C354.2,171.1 353.5,171.3 352.8,171.4 C352.1,171.6 351.4,171.7 350.7,171.8 C350.0,171.9 349.3,172.0 348.6,172.1 C347.9,172.1 347.3,172.2 346.6,172.2 C345.9,172.2 345.2,172.2 344.6,172.1 C343.9,172.1 343.3,172.1 342.7,172.0 C342.1,171.9 341.4,171.8 340.9,171.7 C340.3,171.6 339.7,171.4 339.2,171.3 C338.6,171.1 338.1,170.9 337.6,170.7 C337.1,170.5 336.7,170.3 336.2,170.1 C335.8,169.9 335.4,169.6 335.0,169.3 C334.6,169.0 334.3,168.8 334.0,168.5 C333.7,168.1 333.4,167.8 333.1,167.5 C332.9,167.2 332.7,166.8 332.5,166.4 C332.3,166.1 332.2,165.6 332.1,165.3 C332.0,165.1 332.1,165.0 332.1,164.8 C332.1,164.6 332.2,164.4 332.3,164.2 C332.4,164.0 332.5,163.8 332.7,163.6 C332.9,163.4 333.1,163.2 333.3,163.0 C333.6,162.7 333.8,162.5 334.1,162.3 C334.5,162.0 334.8,161.8 335.2,161.6 C335.5,161.3 335.9,161.1 336.4,160.8 C336.8,160.6 337.3,160.3 337.8,160.1 C338.2,159.8 338.8,159.6 339.3,159.4 C339.8,159.1 340.4,158.9 341.0,158.6 C341.5,158.4 342.1,158.1 342.8,157.9 C343.4,157.7 344.0,157.4 344.7,157.2 C345.3,157.0 346.0,156.8 346.6,156.5 C347.3,156.3 348.0,156.1 348.7,155.9 C349.4,155.7 350.1,155.5 350.7,155.3 C351.4,155.1 352.1,155.0 352.8,154.8 C353.5,154.6 354.2,154.5 354.9,154.3 C355.6,154.2 356.3,154.0 357.0,153.9 C357.6,153.8 358.3,153.7 358.9,153.6 C359.6,153.5 360.2,153.4 360.9,153.3 C361.5,153.2 362.1,153.1 362.7,153.1 C363.3,153.0 363.8,153.0 364.4,153.0 C364.9,152.9 365.5,152.9 365.9,152.9 C366.4,152.9 366.9,152.9 367.4,152.9 C367.8,153.0 368.2,153.0 368.6,153.0 C369.0,153.1 369.3,153.2 369.7,153.2 C370.0,153.3 370.3,153.4 370.5,153.5 C370.8,153.6 371.0,153.7 371.2,153.8 C371.4,153.9 371.5,154.1 371.7,154.2 C371.8,154.4 371.9,154.6 371.9,154.7" fill="none" stroke="#0a0a14" stroke-width="0.85" stroke-opacity="0.9"/><path d="M376.1,153.6 C376.1,153.8 376.3,154.5 376.3,155.0 C376.3,155.5 376.3,155.9 376.3,156.4 C376.2,156.9 376.1,157.5 376.0,158.0 C375.8,158.5 375.6,159.0 375.4,159.5 C375.2,160.0 374.9,160.5 374.6,161.0 C374.3,161.5 373.9,162.1 373.5,162.6 C373.1,163.1 372.7,163.6 372.2,164.1 C371.8,164.6 371.3,165.0 370.7,165.5 C370.2,166.0 369.6,166.5 369.0,166.9 C368.4,167.4 367.8,167.8 367.1,168.2 C366.4,168.7 365.7,169.1 365.0,169.5 C364.3,169.9 363.6,170.2 362.8,170.6 C362.0,170.9 361.3,171.3 360.5,171.6 C359.7,171.9 358.9,172.2 358.0,172.5 C357.2,172.8 356.4,173.0 355.5,173.2 C354.7,173.5 353.9,173.7 353.0,173.8 C352.2,174.0 351.3,174.2 350.5,174.3 C349.6,174.4 348.8,174.5 347.9,174.6 C347.1,174.6 346.3,174.7 345.5,174.7 C344.6,174.7 343.8,174.7 343.0,174.7 C342.3,174.6 341.5,174.6 340.7,174.5 C340.0,174.4 339.2,174.3 338.5,174.1 C337.8,174.0 337.2,173.8 336.5,173.6 C335.8,173.4 335.2,173.2 334.6,173.0 C334.0,172.7 333.5,172.5 332.9,172.2 C332.4,171.9 331.9,171.6 331.5,171.3 C331.0,170.9 330.6,170.6 330.2,170.2 C329.8,169.8 329.5,169.5 329.2,169.1 C328.9,168.6 328.7,168.2 328.5,167.8 C328.2,167.4 328.0,166.8 327.9,166.4 C327.9,166.1 327.9,166.0 327.9,165.8 C328.0,165.6 328.0,165.4 328.2,165.1 C328.3,164.9 328.4,164.6 328.7,164.4 C328.9,164.1 329.1,163.9 329.4,163.6 C329.7,163.3 330.0,163.0 330.4,162.8 C330.8,162.5 331.2,162.2 331.7,161.9 C332.1,161.6 332.6,161.3 333.1,161.0 C333.6,160.7 334.2,160.4 334.8,160.1 C335.4,159.8 336.0,159.5 336.6,159.2 C337.3,158.9 338.0,158.6 338.7,158.3 C339.4,158.0 340.1,157.7 340.8,157.5 C341.6,157.2 342.3,156.9 343.1,156.6 C343.9,156.3 344.7,156.1 345.5,155.8 C346.3,155.6 347.2,155.3 348.0,155.1 C348.8,154.8 349.6,154.6 350.5,154.3 C351.3,154.1 352.2,153.9 353.0,153.7 C353.8,153.5 354.7,153.3 355.5,153.1 C356.3,153.0 357.2,152.8 358.0,152.6 C358.8,152.5 359.6,152.3 360.4,152.2 C361.2,152.1 362.0,152.0 362.7,151.9 C363.5,151.8 364.2,151.7 364.9,151.6 C365.6,151.6 366.3,151.5 367.0,151.5 C367.6,151.5 368.3,151.4 368.9,151.4 C369.5,151.4 370.0,151.4 370.6,151.5 C371.1,151.5 371.6,151.5 372.1,151.6 C372.5,151.7 373.0,151.7 373.4,151.8 C373.7,151.9 374.1,152.0 374.4,152.1 C374.7,152.2 375.0,152.4 375.2,152.5 C375.4,152.7 375.6,152.8 375.8,153.0 C375.9,153.2 376.0,153.5 376.1,153.6" fill="none" stroke="#0a0a14" stroke-width="0.85" stroke-opacity="0.9"/><path d="M380.2,152.4 C380.3,152.7 380.4,153.5 380.5,154.1 C380.5,154.7 380.5,155.2 380.5,155.8 C380.4,156.4 380.3,157.0 380.1,157.6 C379.9,158.2 379.7,158.8 379.5,159.4 C379.2,160.0 378.9,160.6 378.5,161.2 C378.1,161.8 377.7,162.4 377.3,163.0 C376.8,163.6 376.3,164.2 375.7,164.8 C375.2,165.3 374.6,165.9 374.0,166.5 C373.3,167.0 372.7,167.6 371.9,168.1 C371.2,168.6 370.5,169.2 369.7,169.7 C368.9,170.2 368.1,170.6 367.3,171.1 C366.4,171.6 365.6,172.0 364.7,172.4 C363.8,172.8 362.9,173.2 361.9,173.6 C361.0,174.0 360.0,174.3 359.1,174.6 C358.1,175.0 357.1,175.2 356.2,175.5 C355.2,175.8 354.2,176.0 353.2,176.2 C352.2,176.4 351.2,176.6 350.2,176.7 C349.2,176.9 348.2,177.0 347.2,177.1 C346.3,177.2 345.3,177.2 344.3,177.2 C343.4,177.3 342.4,177.3 341.5,177.2 C340.6,177.2 339.7,177.1 338.8,177.0 C337.9,176.9 337.0,176.8 336.2,176.6 C335.4,176.4 334.6,176.2 333.8,176.0 C333.1,175.8 332.3,175.5 331.6,175.2 C330.9,174.9 330.3,174.6 329.7,174.3 C329.0,174.0 328.5,173.6 327.9,173.2 C327.4,172.8 326.9,172.4 326.5,172.0 C326.0,171.5 325.6,171.1 325.3,170.6 C324.9,170.1 324.6,169.6 324.4,169.1 C324.1,168.6 323.9,167.9 323.8,167.6 C323.7,167.2 323.7,167.1 323.8,166.8 C323.8,166.6 323.9,166.3 324.0,166.0 C324.2,165.7 324.4,165.4 324.6,165.1 C324.9,164.8 325.2,164.5 325.5,164.2 C325.9,163.9 326.2,163.6 326.7,163.2 C327.1,162.9 327.6,162.6 328.1,162.2 C328.7,161.9 329.2,161.5 329.9,161.2 C330.5,160.8 331.1,160.5 331.8,160.1 C332.5,159.8 333.2,159.4 334.0,159.1 C334.7,158.7 335.5,158.4 336.4,158.0 C337.2,157.7 338.0,157.4 338.9,157.0 C339.8,156.7 340.7,156.4 341.6,156.0 C342.5,155.7 343.5,155.4 344.4,155.1 C345.3,154.8 346.3,154.5 347.3,154.2 C348.3,153.9 349.2,153.6 350.2,153.4 C351.2,153.1 352.2,152.9 353.2,152.6 C354.2,152.4 355.2,152.2 356.1,151.9 C357.1,151.7 358.1,151.5 359.0,151.4 C360.0,151.2 360.9,151.0 361.8,150.9 C362.8,150.7 363.7,150.6 364.6,150.5 C365.4,150.4 366.3,150.3 367.1,150.2 C368.0,150.1 368.8,150.1 369.6,150.0 C370.3,150.0 371.1,150.0 371.8,149.9 C372.5,149.9 373.1,150.0 373.8,150.0 C374.4,150.0 375.0,150.1 375.5,150.1 C376.1,150.2 376.6,150.3 377.0,150.4 C377.5,150.5 377.9,150.6 378.3,150.8 C378.6,150.9 379.0,151.1 379.2,151.2 C379.5,151.4 379.7,151.6 379.9,151.8 C380.0,152.0 380.1,152.3 380.2,152.4" fill="none" stroke="#0a0a14" stroke-width="0.85" stroke-opacity="0.9"/><path d="M384.4,151.3 C384.4,151.6 384.6,152.6 384.7,153.2 C384.7,153.9 384.7,154.5 384.6,155.2 C384.6,155.9 384.4,156.6 384.2,157.3 C384.1,157.9 383.8,158.6 383.5,159.3 C383.2,160.0 382.8,160.7 382.4,161.4 C382.0,162.1 381.5,162.8 381.0,163.4 C380.5,164.1 379.9,164.8 379.2,165.5 C378.6,166.1 377.9,166.8 377.2,167.4 C376.5,168.1 375.7,168.7 374.9,169.3 C374.1,169.9 373.2,170.5 372.3,171.1 C371.4,171.6 370.5,172.2 369.5,172.7 C368.6,173.3 367.6,173.8 366.5,174.2 C365.5,174.7 364.5,175.2 363.4,175.6 C362.3,176.0 361.2,176.4 360.1,176.8 C359.0,177.2 357.9,177.5 356.8,177.8 C355.6,178.1 354.5,178.4 353.4,178.6 C352.2,178.8 351.1,179.0 349.9,179.2 C348.8,179.4 347.7,179.5 346.5,179.6 C345.4,179.7 344.3,179.8 343.2,179.8 C342.1,179.8 341.0,179.8 340.0,179.7 C338.9,179.7 337.8,179.6 336.8,179.5 C335.8,179.4 334.8,179.2 333.9,179.0 C332.9,178.8 332.0,178.6 331.1,178.4 C330.3,178.1 329.4,177.8 328.6,177.5 C327.8,177.2 327.1,176.8 326.4,176.4 C325.7,176.0 325.0,175.6 324.4,175.2 C323.8,174.7 323.2,174.2 322.7,173.7 C322.2,173.2 321.7,172.7 321.3,172.2 C320.9,171.6 320.6,171.1 320.3,170.5 C320.0,169.9 319.8,169.1 319.6,168.7 C319.5,168.2 319.6,168.1 319.6,167.8 C319.7,167.5 319.8,167.2 319.9,166.9 C320.1,166.6 320.3,166.2 320.6,165.9 C320.9,165.6 321.2,165.2 321.6,164.8 C322.0,164.5 322.5,164.1 323.0,163.7 C323.5,163.3 324.0,162.9 324.6,162.5 C325.2,162.2 325.9,161.8 326.6,161.4 C327.3,161.0 328.0,160.6 328.8,160.2 C329.6,159.7 330.5,159.3 331.3,158.9 C332.2,158.5 333.1,158.1 334.1,157.7 C335.0,157.4 336.0,157.0 337.0,156.6 C338.0,156.2 339.0,155.8 340.1,155.4 C341.1,155.1 342.2,154.7 343.3,154.4 C344.4,154.0 345.5,153.7 346.6,153.3 C347.7,153.0 348.8,152.7 350.0,152.4 C351.1,152.1 352.2,151.8 353.4,151.5 C354.5,151.3 355.6,151.0 356.7,150.8 C357.9,150.5 359.0,150.3 360.1,150.1 C361.2,149.9 362.2,149.7 363.3,149.5 C364.4,149.4 365.4,149.2 366.4,149.1 C367.4,149.0 368.4,148.8 369.4,148.8 C370.3,148.7 371.3,148.6 372.1,148.5 C373.0,148.5 373.9,148.5 374.7,148.5 C375.5,148.5 376.3,148.5 377.0,148.5 C377.7,148.6 378.4,148.6 379.0,148.7 C379.6,148.8 380.2,148.9 380.7,149.0 C381.3,149.1 381.7,149.2 382.1,149.4 C382.6,149.6 382.9,149.7 383.2,149.9 C383.5,150.1 383.8,150.4 384.0,150.6 C384.2,150.8 384.3,151.2 384.4,151.3" fill="none" stroke="#0a0a14" stroke-width="0.85" stroke-opacity="0.9"/><path d="M388.5,150.2 C388.6,150.6 388.8,151.6 388.9,152.4 C388.9,153.1 388.9,153.9 388.8,154.6 C388.8,155.4 388.6,156.1 388.4,156.9 C388.2,157.7 387.9,158.5 387.5,159.2 C387.2,160.0 386.8,160.8 386.3,161.6 C385.8,162.3 385.3,163.1 384.7,163.9 C384.1,164.7 383.4,165.4 382.7,166.2 C382.0,166.9 381.3,167.7 380.4,168.4 C379.6,169.1 378.7,169.8 377.8,170.5 C376.9,171.2 375.9,171.9 374.9,172.5 C373.9,173.1 372.9,173.8 371.8,174.4 C370.7,175.0 369.6,175.5 368.4,176.1 C367.2,176.6 366.1,177.1 364.9,177.6 C363.6,178.1 362.4,178.5 361.2,178.9 C359.9,179.4 358.7,179.7 357.4,180.1 C356.1,180.4 354.8,180.7 353.5,181.0 C352.3,181.3 351.0,181.5 349.7,181.7 C348.4,181.9 347.1,182.0 345.8,182.1 C344.6,182.2 343.3,182.3 342.1,182.3 C340.8,182.4 339.6,182.3 338.4,182.3 C337.2,182.2 336.0,182.1 334.9,182.0 C333.8,181.9 332.6,181.7 331.6,181.5 C330.5,181.3 329.5,181.0 328.5,180.7 C327.5,180.4 326.5,180.1 325.6,179.7 C324.7,179.4 323.9,178.9 323.1,178.5 C322.3,178.1 321.5,177.6 320.8,177.1 C320.1,176.6 319.5,176.1 318.9,175.5 C318.4,174.9 317.9,174.4 317.4,173.7 C317.0,173.1 316.6,172.5 316.3,171.8 C315.9,171.2 315.6,170.3 315.5,169.8 C315.4,169.3 315.4,169.2 315.4,168.8 C315.5,168.5 315.6,168.1 315.8,167.8 C316.0,167.4 316.2,167.0 316.6,166.7 C316.9,166.3 317.3,165.9 317.7,165.4 C318.2,165.0 318.7,164.6 319.2,164.2 C319.8,163.8 320.4,163.3 321.1,162.9 C321.8,162.4 322.5,162.0 323.3,161.5 C324.1,161.1 325.0,160.6 325.9,160.2 C326.8,159.7 327.7,159.3 328.7,158.8 C329.7,158.4 330.7,157.9 331.8,157.5 C332.8,157.0 333.9,156.6 335.0,156.1 C336.2,155.7 337.3,155.3 338.5,154.9 C339.7,154.4 340.9,154.0 342.2,153.6 C343.4,153.2 344.6,152.9 345.9,152.5 C347.2,152.1 348.4,151.8 349.7,151.4 C351.0,151.1 352.3,150.8 353.5,150.4 C354.8,150.1 356.1,149.8 357.3,149.6 C358.6,149.3 359.9,149.0 361.1,148.8 C362.3,148.6 363.6,148.4 364.8,148.2 C365.9,148.0 367.1,147.8 368.3,147.7 C369.4,147.5 370.5,147.4 371.6,147.3 C372.7,147.2 373.7,147.1 374.7,147.1 C375.7,147.0 376.7,147.0 377.6,147.0 C378.5,147.0 379.4,147.0 380.2,147.0 C381.0,147.1 381.8,147.1 382.5,147.2 C383.2,147.3 383.8,147.4 384.4,147.6 C385.0,147.7 385.5,147.9 386.0,148.0 C386.5,148.2 386.9,148.4 387.2,148.6 C387.6,148.9 387.9,149.1 388.1,149.4 C388.3,149.6 388.4,150.1 388.5,150.2" fill="none" stroke="#0a0a14" stroke-width="0.85" stroke-opacity="0.9"/><path d="M392.7,149.1 C392.7,149.5 393.0,150.7 393.1,151.5 C393.1,152.3 393.1,153.2 393.0,154.0 C392.9,154.8 392.8,155.7 392.5,156.5 C392.3,157.4 392.0,158.3 391.6,159.1 C391.2,160.0 390.7,160.9 390.2,161.7 C389.7,162.6 389.1,163.5 388.4,164.3 C387.8,165.2 387.0,166.0 386.2,166.9 C385.4,167.7 384.6,168.5 383.7,169.3 C382.8,170.1 381.8,170.9 380.8,171.7 C379.7,172.5 378.6,173.2 377.5,173.9 C376.4,174.6 375.2,175.3 374.0,176.0 C372.8,176.7 371.5,177.3 370.3,177.9 C369.0,178.5 367.7,179.1 366.3,179.6 C365.0,180.1 363.6,180.6 362.2,181.1 C360.8,181.6 359.4,182.0 358.0,182.4 C356.6,182.7 355.1,183.1 353.7,183.4 C352.3,183.7 350.8,183.9 349.4,184.1 C348.0,184.4 346.5,184.5 345.1,184.6 C343.7,184.8 342.3,184.8 340.9,184.9 C339.6,184.9 338.2,184.9 336.9,184.8 C335.5,184.8 334.2,184.7 332.9,184.5 C331.7,184.3 330.4,184.2 329.2,183.9 C328.1,183.7 326.9,183.4 325.8,183.1 C324.7,182.7 323.6,182.4 322.6,182.0 C321.6,181.6 320.7,181.1 319.8,180.6 C318.9,180.1 318.1,179.6 317.3,179.1 C316.5,178.5 315.8,177.9 315.2,177.3 C314.5,176.7 314.0,176.0 313.5,175.3 C313.0,174.6 312.5,173.9 312.2,173.2 C311.8,172.4 311.5,171.5 311.3,170.9 C311.2,170.3 311.2,170.2 311.3,169.8 C311.3,169.5 311.5,169.1 311.7,168.7 C311.9,168.3 312.2,167.8 312.5,167.4 C312.9,167.0 313.3,166.5 313.8,166.1 C314.3,165.6 314.9,165.1 315.5,164.7 C316.1,164.2 316.8,163.7 317.6,163.2 C318.4,162.7 319.2,162.2 320.1,161.7 C320.9,161.2 321.9,160.7 322.9,160.2 C323.9,159.7 324.9,159.2 326.0,158.7 C327.1,158.2 328.3,157.7 329.4,157.2 C330.6,156.7 331.9,156.2 333.1,155.7 C334.4,155.2 335.7,154.7 337.0,154.3 C338.3,153.8 339.7,153.4 341.0,152.9 C342.4,152.5 343.8,152.0 345.2,151.6 C346.6,151.2 348.0,150.8 349.4,150.4 C350.9,150.1 352.3,149.7 353.7,149.4 C355.1,149.0 356.5,148.7 358.0,148.4 C359.4,148.1 360.8,147.8 362.1,147.5 C363.5,147.3 364.9,147.0 366.2,146.8 C367.5,146.6 368.8,146.4 370.1,146.3 C371.4,146.1 372.6,146.0 373.8,145.9 C375.0,145.8 376.2,145.7 377.3,145.6 C378.4,145.5 379.5,145.5 380.5,145.5 C381.5,145.5 382.5,145.5 383.4,145.6 C384.3,145.6 385.2,145.7 385.9,145.8 C386.7,145.9 387.5,146.0 388.1,146.2 C388.8,146.3 389.4,146.5 389.9,146.7 C390.4,146.9 390.9,147.1 391.2,147.4 C391.6,147.6 391.9,147.9 392.2,148.2 C392.4,148.5 392.6,148.9 392.7,149.1" fill="none" stroke="#0a0a14" stroke-width="0.85" stroke-opacity="0.9"/><path d="M396.8,148.0 C396.9,148.4 397.2,149.7 397.3,150.6 C397.3,151.5 397.3,152.5 397.2,153.4 C397.1,154.3 396.9,155.2 396.7,156.2 C396.4,157.1 396.1,158.1 395.6,159.1 C395.2,160.0 394.7,161.0 394.1,161.9 C393.5,162.9 392.9,163.8 392.1,164.8 C391.4,165.7 390.6,166.7 389.7,167.6 C388.9,168.5 387.9,169.4 386.9,170.3 C385.9,171.2 384.8,172.0 383.7,172.9 C382.6,173.7 381.4,174.6 380.1,175.3 C378.9,176.1 377.6,176.9 376.3,177.6 C374.9,178.4 373.5,179.1 372.1,179.7 C370.7,180.4 369.3,181.0 367.8,181.6 C366.3,182.2 364.8,182.8 363.3,183.3 C361.7,183.8 360.2,184.2 358.6,184.7 C357.0,185.1 355.5,185.4 353.9,185.8 C352.3,186.1 350.7,186.4 349.1,186.6 C347.6,186.8 346.0,187.0 344.4,187.2 C342.9,187.3 341.3,187.4 339.8,187.4 C338.3,187.4 336.8,187.4 335.3,187.4 C333.8,187.3 332.4,187.2 331.0,187.0 C329.6,186.8 328.2,186.6 326.9,186.4 C325.6,186.1 324.3,185.8 323.1,185.4 C321.9,185.1 320.7,184.7 319.6,184.2 C318.5,183.8 317.5,183.3 316.5,182.7 C315.5,182.2 314.6,181.6 313.7,181.0 C312.9,180.4 312.1,179.7 311.4,179.0 C310.7,178.4 310.1,177.6 309.5,176.9 C309.0,176.1 308.5,175.3 308.1,174.5 C307.7,173.7 307.3,172.6 307.2,172.0 C307.0,171.4 307.1,171.3 307.1,170.8 C307.2,170.4 307.3,170.0 307.6,169.6 C307.8,169.1 308.1,168.6 308.5,168.2 C308.9,167.7 309.4,167.2 309.9,166.7 C310.5,166.2 311.1,165.7 311.8,165.1 C312.5,164.6 313.2,164.1 314.1,163.5 C314.9,163.0 315.8,162.4 316.8,161.9 C317.8,161.3 318.8,160.8 319.9,160.2 C321.0,159.7 322.2,159.1 323.4,158.5 C324.6,158.0 325.8,157.4 327.1,156.9 C328.4,156.3 329.8,155.8 331.2,155.3 C332.6,154.7 334.0,154.2 335.5,153.7 C336.9,153.2 338.4,152.7 339.9,152.2 C341.4,151.7 343.0,151.2 344.5,150.8 C346.1,150.3 347.6,149.9 349.2,149.5 C350.7,149.0 352.3,148.6 353.9,148.3 C355.4,147.9 357.0,147.5 358.6,147.2 C360.1,146.9 361.7,146.6 363.2,146.3 C364.7,146.0 366.2,145.7 367.7,145.5 C369.1,145.3 370.6,145.1 372.0,144.9 C373.4,144.7 374.7,144.5 376.1,144.4 C377.4,144.3 378.7,144.2 379.9,144.1 C381.1,144.1 382.3,144.0 383.4,144.0 C384.5,144.0 385.6,144.0 386.6,144.1 C387.6,144.1 388.5,144.2 389.4,144.3 C390.3,144.4 391.1,144.6 391.8,144.7 C392.5,144.9 393.2,145.1 393.8,145.3 C394.3,145.5 394.8,145.8 395.3,146.1 C395.7,146.3 396.0,146.6 396.3,147.0 C396.5,147.3 396.7,147.8 396.8,148.0" fill="none" stroke="#0a0a14" stroke-width="0.85" stroke-opacity="0.9"/><path d="M401.0,146.9 C401.1,147.4 401.4,148.8 401.5,149.8 C401.5,150.7 401.5,151.8 401.4,152.8 C401.3,153.8 401.1,154.8 400.8,155.8 C400.5,156.9 400.1,157.9 399.7,159.0 C399.2,160.0 398.7,161.1 398.0,162.1 C397.4,163.1 396.7,164.2 395.9,165.2 C395.1,166.2 394.2,167.3 393.2,168.3 C392.3,169.3 391.2,170.3 390.1,171.2 C389.0,172.2 387.9,173.2 386.6,174.1 C385.4,175.0 384.1,175.9 382.7,176.8 C381.4,177.6 380.0,178.5 378.5,179.3 C377.1,180.1 375.5,180.8 374.0,181.6 C372.5,182.3 370.9,183.0 369.2,183.6 C367.6,184.3 366.0,184.9 364.3,185.4 C362.6,186.0 360.9,186.5 359.2,186.9 C357.5,187.4 355.8,187.8 354.1,188.2 C352.3,188.5 350.6,188.8 348.9,189.1 C347.2,189.3 345.4,189.5 343.7,189.7 C342.0,189.8 340.3,189.9 338.7,189.9 C337.0,190.0 335.4,190.0 333.8,189.9 C332.2,189.8 330.6,189.7 329.1,189.5 C327.5,189.3 326.0,189.1 324.6,188.8 C323.2,188.5 321.8,188.2 320.4,187.8 C319.1,187.4 317.8,186.9 316.6,186.4 C315.4,186.0 314.3,185.4 313.2,184.8 C312.1,184.2 311.1,183.6 310.2,182.9 C309.3,182.3 308.4,181.6 307.7,180.8 C306.9,180.1 306.2,179.3 305.6,178.4 C305.0,177.6 304.5,176.8 304.1,175.9 C303.6,175.0 303.2,173.8 303.0,173.1 C302.8,172.5 302.9,172.3 303.0,171.8 C303.0,171.4 303.2,170.9 303.5,170.4 C303.7,170.0 304.0,169.4 304.5,168.9 C304.9,168.4 305.4,167.9 306.0,167.3 C306.6,166.8 307.3,166.2 308.0,165.6 C308.8,165.0 309.7,164.4 310.6,163.9 C311.5,163.3 312.5,162.7 313.5,162.1 C314.6,161.4 315.7,160.8 316.9,160.2 C318.1,159.6 319.4,159.0 320.7,158.4 C322.0,157.8 323.4,157.2 324.8,156.6 C326.3,156.0 327.7,155.4 329.3,154.8 C330.8,154.2 332.3,153.7 333.9,153.1 C335.5,152.6 337.2,152.0 338.8,151.5 C340.4,150.9 342.1,150.4 343.8,149.9 C345.5,149.4 347.2,148.9 348.9,148.5 C350.6,148.0 352.3,147.6 354.1,147.2 C355.8,146.8 357.5,146.4 359.2,146.0 C360.9,145.7 362.5,145.3 364.2,145.0 C365.9,144.7 367.5,144.4 369.1,144.1 C370.7,143.9 372.3,143.7 373.8,143.5 C375.3,143.3 376.8,143.1 378.3,143.0 C379.7,142.8 381.1,142.7 382.5,142.7 C383.8,142.6 385.1,142.6 386.3,142.5 C387.6,142.5 388.7,142.6 389.8,142.6 C390.9,142.7 391.9,142.8 392.9,142.9 C393.8,143.0 394.7,143.2 395.5,143.3 C396.3,143.5 397.0,143.7 397.6,144.0 C398.3,144.2 398.8,144.5 399.3,144.8 C399.7,145.1 400.1,145.4 400.4,145.7 C400.7,146.1 400.9,146.7 401.0,146.9" fill="none" stroke="#0a0a14" stroke-width="0.85" stroke-opacity="0.9"/><path d="M405.1,145.8 C405.2,146.3 405.6,147.8 405.7,148.9 C405.7,150.0 405.7,151.1 405.6,152.2 C405.5,153.3 405.3,154.4 404.9,155.5 C404.6,156.6 404.2,157.7 403.7,158.9 C403.2,160.0 402.6,161.2 401.9,162.3 C401.2,163.4 400.4,164.5 399.6,165.7 C398.7,166.8 397.8,167.9 396.7,169.0 C395.7,170.1 394.6,171.1 393.4,172.2 C392.2,173.2 390.9,174.3 389.6,175.3 C388.2,176.3 386.8,177.2 385.3,178.2 C383.9,179.1 382.3,180.0 380.8,180.9 C379.2,181.8 377.5,182.6 375.9,183.4 C374.2,184.2 372.5,184.9 370.7,185.6 C368.9,186.3 367.2,187.0 365.3,187.6 C363.5,188.2 361.7,188.7 359.8,189.2 C358.0,189.7 356.1,190.2 354.2,190.5 C352.4,190.9 350.5,191.3 348.6,191.5 C346.7,191.8 344.9,192.0 343.0,192.2 C341.2,192.3 339.3,192.4 337.5,192.5 C335.7,192.5 334.0,192.5 332.2,192.4 C330.5,192.3 328.8,192.2 327.1,192.0 C325.4,191.8 323.8,191.6 322.3,191.2 C320.7,190.9 319.2,190.6 317.8,190.1 C316.3,189.7 314.9,189.2 313.6,188.7 C312.3,188.2 311.1,187.6 309.9,186.9 C308.7,186.3 307.7,185.6 306.7,184.9 C305.6,184.2 304.7,183.4 303.9,182.6 C303.1,181.8 302.3,180.9 301.7,180.0 C301.0,179.1 300.4,178.2 300.0,177.2 C299.5,176.3 299.1,175.0 298.9,174.2 C298.7,173.5 298.7,173.3 298.8,172.9 C298.9,172.4 299.1,171.9 299.3,171.3 C299.6,170.8 300.0,170.2 300.4,169.7 C300.9,169.1 301.5,168.5 302.1,167.9 C302.8,167.3 303.5,166.7 304.3,166.1 C305.1,165.5 306.1,164.8 307.1,164.2 C308.0,163.5 309.1,162.9 310.3,162.2 C311.4,161.6 312.7,160.9 314.0,160.2 C315.3,159.6 316.6,158.9 318.1,158.3 C319.5,157.6 321.0,157.0 322.5,156.3 C324.1,155.7 325.7,155.0 327.3,154.4 C329.0,153.8 330.7,153.1 332.4,152.5 C334.1,151.9 335.9,151.3 337.7,150.7 C339.5,150.2 341.3,149.6 343.1,149.1 C344.9,148.5 346.8,148.0 348.7,147.5 C350.5,147.0 352.4,146.5 354.2,146.1 C356.1,145.6 357.9,145.2 359.8,144.8 C361.6,144.4 363.4,144.1 365.2,143.7 C367.0,143.4 368.8,143.1 370.6,142.8 C372.3,142.5 374.0,142.3 375.7,142.1 C377.3,141.9 379.0,141.7 380.5,141.5 C382.1,141.4 383.6,141.3 385.1,141.2 C386.5,141.1 387.9,141.1 389.2,141.1 C390.6,141.1 391.8,141.1 393.0,141.1 C394.2,141.2 395.3,141.3 396.3,141.4 C397.4,141.6 398.3,141.7 399.2,141.9 C400.0,142.1 400.8,142.3 401.5,142.6 C402.2,142.9 402.8,143.2 403.3,143.5 C403.8,143.8 404.2,144.2 404.5,144.5 C404.8,144.9 405.0,145.6 405.1,145.8" fill="none" stroke="#0a0a14" stroke-width="0.85" stroke-opacity="0.9"/><path d="M409.3,144.7 C409.4,145.2 409.8,146.9 409.8,148.0 C409.9,149.2 409.9,150.4 409.8,151.5 C409.7,152.7 409.4,153.9 409.1,155.1 C408.7,156.3 408.3,157.6 407.8,158.8 C407.2,160.0 406.6,161.2 405.8,162.5 C405.1,163.7 404.2,164.9 403.3,166.1 C402.4,167.3 401.3,168.5 400.2,169.7 C399.1,170.8 397.9,172.0 396.6,173.1 C395.3,174.3 393.9,175.4 392.5,176.5 C391.1,177.5 389.5,178.6 388.0,179.6 C386.4,180.6 384.7,181.6 383.0,182.5 C381.3,183.5 379.5,184.4 377.7,185.2 C375.9,186.1 374.1,186.9 372.2,187.6 C370.3,188.4 368.3,189.1 366.4,189.7 C364.4,190.4 362.4,191.0 360.4,191.5 C358.4,192.0 356.4,192.5 354.4,192.9 C352.4,193.4 350.4,193.7 348.3,194.0 C346.3,194.3 344.3,194.5 342.3,194.7 C340.3,194.9 338.4,195.0 336.4,195.0 C334.5,195.1 332.5,195.0 330.7,195.0 C328.8,194.9 326.9,194.7 325.2,194.5 C323.4,194.3 321.6,194.0 319.9,193.7 C318.3,193.3 316.6,192.9 315.1,192.5 C313.5,192.0 312.0,191.5 310.6,190.9 C309.2,190.4 307.9,189.7 306.6,189.0 C305.4,188.4 304.2,187.6 303.1,186.8 C302.0,186.0 301.0,185.2 300.1,184.3 C299.2,183.5 298.4,182.5 297.7,181.6 C297.0,180.6 296.4,179.6 295.9,178.6 C295.4,177.5 294.9,176.1 294.7,175.3 C294.5,174.6 294.6,174.4 294.7,173.9 C294.7,173.3 294.9,172.8 295.2,172.2 C295.5,171.6 295.9,171.0 296.4,170.4 C296.9,169.8 297.5,169.2 298.2,168.5 C298.9,167.9 299.7,167.2 300.6,166.6 C301.5,165.9 302.5,165.2 303.5,164.5 C304.6,163.8 305.8,163.1 307.0,162.4 C308.3,161.7 309.6,161.0 311.0,160.3 C312.4,159.6 313.9,158.8 315.4,158.1 C317.0,157.4 318.6,156.7 320.2,156.0 C321.9,155.3 323.6,154.6 325.4,153.9 C327.2,153.3 329.0,152.6 330.9,151.9 C332.7,151.3 334.6,150.6 336.6,150.0 C338.5,149.4 340.5,148.8 342.4,148.2 C344.4,147.6 346.4,147.1 348.4,146.5 C350.4,146.0 352.4,145.5 354.4,145.0 C356.4,144.5 358.4,144.1 360.4,143.6 C362.4,143.2 364.3,142.8 366.3,142.5 C368.2,142.1 370.1,141.8 372.0,141.5 C373.9,141.2 375.7,140.9 377.5,140.7 C379.3,140.4 381.1,140.2 382.8,140.1 C384.4,139.9 386.1,139.8 387.6,139.7 C389.2,139.6 390.7,139.6 392.2,139.6 C393.6,139.6 394.9,139.6 396.2,139.7 C397.5,139.7 398.7,139.8 399.8,140.0 C400.9,140.1 401.9,140.3 402.9,140.5 C403.8,140.7 404.6,141.0 405.4,141.2 C406.1,141.5 406.7,141.8 407.3,142.2 C407.8,142.5 408.3,142.9 408.6,143.3 C408.9,143.7 409.2,144.4 409.3,144.7" fill="none" stroke="#0a0a14" stroke-width="0.85" stroke-opacity="0.9"/><path d="M413.4,143.5 C413.5,144.1 414.0,145.9 414.0,147.2 C414.1,148.4 414.1,149.7 414.0,150.9 C413.8,152.2 413.6,153.5 413.2,154.8 C412.9,156.1 412.4,157.4 411.8,158.7 C411.2,160.0 410.5,161.3 409.7,162.6 C408.9,163.9 408.0,165.3 407.0,166.5 C406.0,167.8 404.9,169.1 403.7,170.4 C402.5,171.6 401.2,172.9 399.8,174.1 C398.5,175.3 397.0,176.5 395.4,177.7 C393.9,178.8 392.3,179.9 390.6,181.0 C388.9,182.1 387.1,183.2 385.3,184.2 C383.4,185.2 381.5,186.1 379.6,187.0 C377.7,188.0 375.7,188.8 373.6,189.6 C371.6,190.4 369.5,191.2 367.4,191.9 C365.3,192.6 363.2,193.2 361.1,193.8 C358.9,194.4 356.7,194.9 354.6,195.3 C352.4,195.8 350.2,196.2 348.1,196.5 C345.9,196.8 343.8,197.0 341.6,197.2 C339.5,197.4 337.4,197.5 335.3,197.6 C333.2,197.6 331.1,197.6 329.1,197.5 C327.1,197.4 325.1,197.2 323.2,197.0 C321.3,196.8 319.4,196.5 317.6,196.1 C315.8,195.8 314.1,195.3 312.4,194.8 C310.7,194.4 309.1,193.8 307.6,193.2 C306.1,192.6 304.7,191.9 303.3,191.1 C302.0,190.4 300.7,189.6 299.6,188.8 C298.4,187.9 297.3,187.0 296.4,186.1 C295.4,185.2 294.5,184.2 293.8,183.1 C293.0,182.1 292.4,181.0 291.9,179.9 C291.3,178.8 290.8,177.3 290.6,176.5 C290.3,175.6 290.4,175.4 290.5,174.9 C290.6,174.3 290.8,173.7 291.1,173.1 C291.4,172.5 291.8,171.8 292.4,171.2 C292.9,170.5 293.6,169.9 294.3,169.2 C295.1,168.5 295.9,167.8 296.9,167.0 C297.8,166.3 298.9,165.6 300.0,164.8 C301.2,164.1 302.4,163.3 303.8,162.6 C305.1,161.8 306.5,161.0 308.0,160.3 C309.5,159.5 311.1,158.8 312.8,158.0 C314.4,157.2 316.1,156.5 317.9,155.7 C319.7,155.0 321.6,154.2 323.5,153.5 C325.4,152.8 327.3,152.1 329.3,151.4 C331.3,150.7 333.4,150.0 335.4,149.3 C337.5,148.6 339.6,148.0 341.7,147.4 C343.8,146.7 346.0,146.1 348.1,145.6 C350.3,145.0 352.4,144.4 354.6,143.9 C356.7,143.4 358.9,142.9 361.0,142.5 C363.1,142.0 365.2,141.6 367.3,141.2 C369.4,140.8 371.4,140.4 373.5,140.1 C375.5,139.8 377.4,139.5 379.4,139.3 C381.3,139.0 383.2,138.8 385.0,138.6 C386.8,138.5 388.6,138.3 390.2,138.3 C391.9,138.2 393.5,138.1 395.1,138.1 C396.6,138.1 398.1,138.1 399.4,138.2 C400.8,138.3 402.1,138.4 403.3,138.5 C404.5,138.7 405.6,138.9 406.5,139.1 C407.5,139.3 408.4,139.6 409.2,139.9 C410.0,140.2 410.7,140.5 411.3,140.9 C411.9,141.3 412.3,141.7 412.7,142.1 C413.0,142.6 413.3,143.3 413.4,143.5" fill="none" stroke="#0a0a14" stroke-width="0.85" stroke-opacity="0.9"/><path d="M417.6,142.4 C417.7,143.1 418.1,145.0 418.2,146.3 C418.3,147.6 418.3,149.0 418.2,150.3 C418.0,151.7 417.7,153.0 417.4,154.4 C417.0,155.8 416.5,157.2 415.8,158.6 C415.2,160.0 414.5,161.4 413.6,162.8 C412.8,164.2 411.8,165.6 410.7,167.0 C409.7,168.4 408.5,169.7 407.2,171.1 C405.9,172.4 404.5,173.8 403.1,175.0 C401.6,176.3 400.0,177.6 398.4,178.9 C396.7,180.1 395.0,181.3 393.2,182.5 C391.4,183.6 389.5,184.7 387.5,185.8 C385.6,186.9 383.5,187.9 381.5,188.9 C379.4,189.8 377.3,190.8 375.1,191.6 C372.9,192.5 370.7,193.3 368.5,194.0 C366.2,194.8 364.0,195.5 361.7,196.1 C359.4,196.7 357.1,197.2 354.8,197.7 C352.4,198.2 350.1,198.6 347.8,198.9 C345.5,199.3 343.2,199.5 340.9,199.7 C338.6,199.9 336.4,200.1 334.2,200.1 C331.9,200.1 329.7,200.1 327.6,200.0 C325.4,199.9 323.3,199.8 321.3,199.5 C319.2,199.3 317.2,199.0 315.3,198.6 C313.4,198.2 311.5,197.7 309.7,197.2 C307.9,196.7 306.2,196.1 304.6,195.4 C303.0,194.8 301.5,194.0 300.0,193.3 C298.6,192.5 297.3,191.6 296.0,190.7 C294.8,189.8 293.6,188.9 292.6,187.9 C291.6,186.9 290.7,185.8 289.9,184.7 C289.1,183.6 288.4,182.4 287.8,181.2 C287.2,180.1 286.7,178.5 286.4,177.6 C286.2,176.7 286.2,176.5 286.3,175.9 C286.4,175.3 286.7,174.6 287.0,174.0 C287.3,173.3 287.8,172.7 288.3,172.0 C288.9,171.3 289.6,170.5 290.4,169.8 C291.2,169.0 292.1,168.3 293.1,167.5 C294.2,166.7 295.3,166.0 296.5,165.2 C297.7,164.4 299.1,163.6 300.5,162.7 C301.9,161.9 303.4,161.1 305.0,160.3 C306.6,159.5 308.3,158.7 310.1,157.9 C311.9,157.0 313.7,156.2 315.6,155.4 C317.5,154.6 319.5,153.8 321.6,153.1 C323.6,152.3 325.7,151.5 327.8,150.8 C329.9,150.0 332.1,149.3 334.3,148.6 C336.5,147.9 338.8,147.2 341.0,146.5 C343.3,145.8 345.6,145.2 347.9,144.6 C350.2,144.0 352.5,143.4 354.7,142.8 C357.0,142.3 359.3,141.8 361.6,141.3 C363.9,140.8 366.1,140.3 368.3,139.9 C370.6,139.5 372.8,139.1 374.9,138.8 C377.0,138.4 379.2,138.1 381.2,137.9 C383.3,137.6 385.3,137.4 387.2,137.2 C389.1,137.0 391.0,136.9 392.8,136.8 C394.6,136.7 396.3,136.6 398.0,136.6 C399.6,136.6 401.2,136.6 402.6,136.7 C404.1,136.8 405.5,136.9 406.7,137.1 C408.0,137.2 409.2,137.4 410.2,137.7 C411.3,137.9 412.3,138.2 413.1,138.5 C413.9,138.8 414.7,139.2 415.3,139.6 C415.9,140.0 416.4,140.4 416.8,140.9 C417.2,141.4 417.5,142.2 417.6,142.4" fill="none" stroke="#0a0a14" stroke-width="0.85" stroke-opacity="0.9"/><path d="M421.7,141.3 C421.9,142.0 422.3,144.0 422.4,145.4 C422.5,146.8 422.5,148.3 422.4,149.7 C422.2,151.1 421.9,152.6 421.5,154.1 C421.1,155.6 420.6,157.0 419.9,158.5 C419.2,160.0 418.4,161.5 417.5,163.0 C416.6,164.5 415.6,166.0 414.5,167.4 C413.3,168.9 412.1,170.3 410.7,171.8 C409.3,173.2 407.9,174.6 406.3,176.0 C404.7,177.4 403.1,178.7 401.3,180.0 C399.6,181.4 397.7,182.6 395.8,183.9 C393.8,185.1 391.8,186.3 389.8,187.4 C387.7,188.6 385.5,189.7 383.3,190.7 C381.1,191.7 378.9,192.7 376.6,193.6 C374.3,194.5 371.9,195.4 369.5,196.2 C367.1,197.0 364.7,197.7 362.3,198.4 C359.8,199.0 357.4,199.6 354.9,200.1 C352.5,200.6 350.0,201.0 347.6,201.4 C345.1,201.8 342.6,202.0 340.2,202.3 C337.8,202.5 335.4,202.6 333.0,202.6 C330.7,202.7 328.3,202.7 326.0,202.6 C323.7,202.5 321.5,202.3 319.3,202.0 C317.1,201.8 315.0,201.4 313.0,201.0 C310.9,200.6 308.9,200.1 307.1,199.6 C305.2,199.0 303.3,198.4 301.6,197.7 C299.9,197.0 298.3,196.2 296.7,195.4 C295.2,194.5 293.8,193.6 292.5,192.7 C291.2,191.7 289.9,190.7 288.8,189.6 C287.8,188.6 286.8,187.4 285.9,186.3 C285.1,185.1 284.3,183.9 283.7,182.6 C283.1,181.3 282.5,179.6 282.3,178.7 C282.0,177.7 282.1,177.5 282.2,176.9 C282.3,176.2 282.5,175.6 282.9,174.9 C283.2,174.2 283.7,173.5 284.3,172.7 C284.9,172.0 285.7,171.2 286.5,170.4 C287.4,169.6 288.3,168.8 289.4,168.0 C290.5,167.2 291.7,166.3 293.0,165.5 C294.3,164.6 295.7,163.8 297.2,162.9 C298.7,162.1 300.4,161.2 302.1,160.3 C303.8,159.5 305.6,158.6 307.5,157.7 C309.3,156.9 311.3,156.0 313.3,155.2 C315.4,154.3 317.5,153.5 319.6,152.6 C321.8,151.8 324.0,151.0 326.3,150.2 C328.5,149.4 330.9,148.6 333.2,147.9 C335.5,147.1 337.9,146.4 340.3,145.7 C342.7,144.9 345.2,144.3 347.6,143.6 C350.0,143.0 352.5,142.3 354.9,141.7 C357.4,141.2 359.8,140.6 362.2,140.1 C364.6,139.6 367.0,139.1 369.4,138.6 C371.7,138.2 374.1,137.8 376.4,137.4 C378.6,137.1 380.9,136.7 383.1,136.5 C385.2,136.2 387.4,135.9 389.4,135.8 C391.5,135.6 393.5,135.4 395.4,135.3 C397.3,135.2 399.1,135.2 400.9,135.1 C402.6,135.1 404.3,135.2 405.8,135.2 C407.4,135.3 408.9,135.5 410.2,135.6 C411.5,135.8 412.8,136.0 413.9,136.3 C415.1,136.5 416.1,136.8 417.0,137.2 C417.9,137.5 418.6,137.9 419.3,138.3 C420.0,138.7 420.5,139.2 420.9,139.7 C421.3,140.2 421.6,141.0 421.7,141.3" fill="none" stroke="#0a0a14" stroke-width="0.85" stroke-opacity="0.9"/><path d="M425.9,140.2 C426.0,140.9 426.5,143.1 426.6,144.6 C426.7,146.0 426.7,147.6 426.5,149.1 C426.4,150.6 426.1,152.2 425.6,153.7 C425.2,155.3 424.6,156.9 423.9,158.4 C423.2,160.0 422.4,161.6 421.4,163.2 C420.5,164.7 419.4,166.3 418.2,167.9 C417.0,169.4 415.6,171.0 414.2,172.5 C412.8,174.0 411.2,175.5 409.5,177.0 C407.9,178.4 406.1,179.9 404.2,181.2 C402.4,182.6 400.4,184.0 398.4,185.3 C396.3,186.6 394.2,187.9 392.0,189.1 C389.8,190.3 387.5,191.4 385.2,192.5 C382.9,193.6 380.5,194.7 378.0,195.6 C375.6,196.6 373.1,197.5 370.6,198.3 C368.0,199.2 365.5,200.0 362.9,200.6 C360.3,201.3 357.7,202.0 355.1,202.5 C352.5,203.0 349.9,203.5 347.3,203.9 C344.7,204.3 342.1,204.6 339.5,204.8 C337.0,205.0 334.4,205.1 331.9,205.2 C329.4,205.2 326.9,205.2 324.5,205.1 C322.1,205.0 319.7,204.8 317.4,204.5 C315.1,204.2 312.8,203.9 310.6,203.5 C308.5,203.0 306.4,202.5 304.4,201.9 C302.4,201.3 300.4,200.6 298.6,199.9 C296.8,199.2 295.1,198.3 293.5,197.5 C291.8,196.6 290.3,195.6 288.9,194.6 C287.5,193.6 286.2,192.5 285.1,191.4 C283.9,190.3 282.9,189.1 282.0,187.8 C281.1,186.6 280.3,185.3 279.6,183.9 C279.0,182.6 278.4,180.8 278.1,179.8 C277.8,178.8 277.9,178.5 278.0,177.9 C278.1,177.2 278.4,176.5 278.8,175.8 C279.1,175.0 279.6,174.3 280.3,173.5 C280.9,172.7 281.7,171.9 282.6,171.0 C283.5,170.2 284.5,169.3 285.7,168.5 C286.8,167.6 288.1,166.7 289.5,165.8 C290.9,164.9 292.4,164.0 294.0,163.1 C295.6,162.2 297.3,161.3 299.1,160.3 C300.9,159.4 302.8,158.5 304.8,157.6 C306.8,156.7 308.9,155.8 311.0,154.9 C313.2,154.0 315.4,153.1 317.7,152.2 C320.0,151.3 322.3,150.4 324.7,149.6 C327.1,148.8 329.6,147.9 332.1,147.1 C334.6,146.3 337.1,145.5 339.6,144.8 C342.2,144.1 344.8,143.3 347.3,142.6 C349.9,141.9 352.5,141.3 355.1,140.7 C357.7,140.0 360.3,139.4 362.8,138.9 C365.4,138.3 367.9,137.8 370.4,137.4 C372.9,136.9 375.4,136.5 377.8,136.1 C380.2,135.7 382.6,135.4 384.9,135.1 C387.2,134.8 389.5,134.5 391.7,134.3 C393.8,134.1 396.0,134.0 398.0,133.8 C400.0,133.7 402.0,133.7 403.8,133.7 C405.6,133.7 407.4,133.7 409.0,133.8 C410.7,133.9 412.2,134.0 413.7,134.2 C415.1,134.3 416.4,134.6 417.6,134.8 C418.8,135.1 419.9,135.4 420.8,135.8 C421.8,136.2 422.6,136.6 423.3,137.0 C424.0,137.5 424.6,138.0 425.0,138.5 C425.4,139.0 425.7,139.9 425.9,140.2" fill="none" stroke="#0a0a14" stroke-width="0.85" stroke-opacity="0.9"/><path d="M430.0,139.1 C430.2,139.9 430.7,142.1 430.8,143.7 C430.9,145.3 430.9,146.9 430.7,148.5 C430.6,150.1 430.2,151.7 429.8,153.4 C429.3,155.0 428.7,156.7 428.0,158.4 C427.2,160.0 426.4,161.7 425.3,163.4 C424.3,165.0 423.2,166.7 421.9,168.3 C420.6,170.0 419.2,171.6 417.7,173.2 C416.2,174.8 414.5,176.4 412.8,177.9 C411.0,179.4 409.1,181.0 407.2,182.4 C405.2,183.9 403.1,185.3 401.0,186.7 C398.8,188.1 396.6,189.4 394.3,190.7 C391.9,192.0 389.5,193.2 387.1,194.4 C384.6,195.5 382.1,196.6 379.5,197.6 C376.9,198.7 374.3,199.6 371.6,200.5 C368.9,201.4 366.2,202.2 363.5,202.9 C360.8,203.7 358.0,204.3 355.3,204.9 C352.5,205.4 349.8,205.9 347.0,206.3 C344.3,206.7 341.5,207.1 338.8,207.3 C336.1,207.5 333.4,207.7 330.8,207.7 C328.1,207.8 325.5,207.7 322.9,207.6 C320.4,207.5 317.9,207.3 315.4,207.0 C313.0,206.7 310.6,206.4 308.3,205.9 C306.0,205.4 303.8,204.9 301.7,204.3 C299.6,203.6 297.5,202.9 295.6,202.1 C293.7,201.4 291.9,200.5 290.2,199.6 C288.5,198.6 286.9,197.6 285.4,196.6 C283.9,195.5 282.5,194.4 281.3,193.2 C280.1,192.0 279.0,190.7 278.1,189.4 C277.1,188.1 276.3,186.7 275.6,185.3 C274.9,183.9 274.2,182.0 274.0,180.9 C273.7,179.8 273.8,179.6 273.9,178.9 C274.0,178.2 274.2,177.4 274.6,176.6 C275.0,175.9 275.6,175.1 276.3,174.2 C276.9,173.4 277.8,172.5 278.7,171.6 C279.7,170.8 280.7,169.9 282.0,168.9 C283.2,168.0 284.5,167.1 286.0,166.1 C287.4,165.2 289.0,164.2 290.7,163.3 C292.4,162.3 294.2,161.3 296.1,160.4 C298.0,159.4 300.0,158.4 302.1,157.5 C304.2,156.5 306.5,155.5 308.7,154.6 C311.0,153.6 313.4,152.7 315.8,151.8 C318.2,150.8 320.7,149.9 323.2,149.0 C325.7,148.1 328.3,147.3 331.0,146.4 C333.6,145.6 336.3,144.7 339.0,143.9 C341.6,143.2 344.4,142.4 347.1,141.7 C349.8,140.9 352.5,140.2 355.3,139.6 C358.0,138.9 360.7,138.3 363.4,137.7 C366.1,137.1 368.8,136.6 371.4,136.1 C374.1,135.6 376.7,135.1 379.3,134.7 C381.8,134.3 384.3,134.0 386.8,133.7 C389.2,133.3 391.6,133.1 393.9,132.9 C396.2,132.7 398.4,132.5 400.6,132.4 C402.7,132.3 404.8,132.2 406.7,132.2 C408.7,132.2 410.5,132.2 412.3,132.3 C414.0,132.4 415.6,132.5 417.1,132.7 C418.6,132.9 420.0,133.1 421.3,133.4 C422.6,133.7 423.7,134.1 424.7,134.4 C425.7,134.8 426.6,135.3 427.3,135.7 C428.1,136.2 428.7,136.7 429.1,137.3 C429.6,137.8 429.9,138.8 430.0,139.1" fill="none" stroke="#0a0a14" stroke-width="0.85" stroke-opacity="0.9"/><path d="M434.2,138.0 C434.3,138.8 434.9,141.2 435.0,142.8 C435.1,144.5 435.1,146.2 434.9,147.9 C434.7,149.6 434.4,151.3 433.9,153.0 C433.4,154.8 432.8,156.5 432.0,158.3 C431.2,160.0 430.3,161.8 429.2,163.5 C428.2,165.3 427.0,167.0 425.6,168.8 C424.3,170.5 422.8,172.2 421.2,173.9 C419.6,175.6 417.9,177.2 416.0,178.9 C414.2,180.5 412.2,182.1 410.1,183.6 C408.0,185.2 405.9,186.7 403.6,188.1 C401.3,189.6 398.9,191.0 396.5,192.3 C394.1,193.7 391.5,195.0 388.9,196.2 C386.3,197.4 383.7,198.6 380.9,199.6 C378.2,200.7 375.4,201.7 372.6,202.7 C369.8,203.6 367.0,204.4 364.1,205.2 C361.2,206.0 358.3,206.7 355.5,207.3 C352.6,207.9 349.6,208.4 346.8,208.8 C343.9,209.2 341.0,209.6 338.1,209.8 C335.3,210.0 332.4,210.2 329.6,210.3 C326.8,210.3 324.1,210.3 321.4,210.2 C318.7,210.0 316.0,209.8 313.5,209.5 C310.9,209.2 308.4,208.8 306.0,208.3 C303.6,207.9 301.2,207.3 299.0,206.6 C296.8,206.0 294.6,205.2 292.6,204.4 C290.6,203.6 288.7,202.7 286.9,201.7 C285.1,200.7 283.4,199.6 281.8,198.5 C280.3,197.4 278.9,196.2 277.6,194.9 C276.3,193.7 275.1,192.3 274.1,190.9 C273.1,189.6 272.2,188.1 271.5,186.6 C270.8,185.1 270.1,183.1 269.8,182.0 C269.5,180.9 269.6,180.6 269.7,179.9 C269.8,179.1 270.1,178.3 270.5,177.5 C270.9,176.7 271.5,175.9 272.2,175.0 C272.9,174.1 273.8,173.2 274.8,172.3 C275.8,171.3 276.9,170.4 278.2,169.4 C279.5,168.4 280.9,167.5 282.5,166.5 C284.0,165.5 285.7,164.5 287.4,163.4 C289.2,162.4 291.1,161.4 293.2,160.4 C295.2,159.4 297.3,158.3 299.5,157.3 C301.7,156.3 304.0,155.3 306.4,154.3 C308.8,153.3 311.3,152.3 313.8,151.3 C316.4,150.3 319.0,149.4 321.7,148.4 C324.3,147.5 327.1,146.6 329.8,145.7 C332.6,144.8 335.4,143.9 338.3,143.1 C341.1,142.3 344.0,141.5 346.8,140.7 C349.7,139.9 352.6,139.2 355.4,138.5 C358.3,137.8 361.2,137.1 364.0,136.5 C366.9,135.9 369.7,135.3 372.5,134.8 C375.3,134.3 378.0,133.8 380.7,133.4 C383.4,133.0 386.0,132.6 388.6,132.3 C391.2,131.9 393.7,131.7 396.1,131.4 C398.6,131.2 400.9,131.0 403.2,130.9 C405.4,130.8 407.6,130.7 409.6,130.7 C411.7,130.7 413.6,130.7 415.5,130.8 C417.3,130.9 419.0,131.1 420.6,131.3 C422.2,131.5 423.7,131.7 425.0,132.0 C426.3,132.3 427.5,132.7 428.6,133.1 C429.6,133.5 430.6,133.9 431.3,134.4 C432.1,134.9 432.7,135.5 433.2,136.1 C433.7,136.7 434.0,137.7 434.2,138.0" fill="none" stroke="#0a0a14" stroke-width="0.85" stroke-opacity="0.9"/><path d="M438.4,136.9 C438.5,137.7 439.1,140.2 439.2,142.0 C439.3,143.7 439.3,145.5 439.1,147.2 C438.9,149.0 438.6,150.8 438.1,152.7 C437.6,154.5 436.9,156.3 436.1,158.2 C435.2,160.0 434.3,161.9 433.1,163.7 C432.0,165.5 430.8,167.4 429.3,169.2 C427.9,171.0 426.4,172.8 424.7,174.6 C423.0,176.4 421.2,178.1 419.2,179.8 C417.3,181.5 415.2,183.2 413.1,184.8 C410.9,186.4 408.6,188.0 406.2,189.6 C403.8,191.1 401.3,192.6 398.7,194.0 C396.2,195.4 393.5,196.7 390.8,198.0 C388.1,199.3 385.3,200.5 382.4,201.6 C379.6,202.8 376.6,203.8 373.7,204.8 C370.7,205.8 367.7,206.7 364.7,207.5 C361.7,208.3 358.7,209.0 355.6,209.7 C352.6,210.3 349.5,210.8 346.5,211.3 C343.5,211.7 340.4,212.1 337.4,212.3 C334.4,212.6 331.4,212.7 328.5,212.8 C325.6,212.9 322.7,212.8 319.8,212.7 C317.0,212.6 314.2,212.3 311.5,212.0 C308.8,211.7 306.2,211.3 303.7,210.8 C301.1,210.3 298.7,209.7 296.3,209.0 C294.0,208.3 291.7,207.5 289.6,206.6 C287.5,205.8 285.5,204.8 283.6,203.8 C281.7,202.8 279.9,201.6 278.3,200.5 C276.7,199.3 275.2,198.0 273.8,196.7 C272.5,195.4 271.2,194.0 270.2,192.5 C269.1,191.1 268.2,189.5 267.4,188.0 C266.7,186.4 266.0,184.3 265.6,183.1 C265.3,182.0 265.4,181.7 265.6,180.9 C265.7,180.1 266.0,179.3 266.4,178.4 C266.8,177.6 267.4,176.7 268.2,175.7 C268.9,174.8 269.8,173.9 270.9,172.9 C272.0,171.9 273.2,170.9 274.5,169.9 C275.8,168.9 277.3,167.8 278.9,166.8 C280.6,165.7 282.3,164.7 284.2,163.6 C286.1,162.6 288.1,161.5 290.2,160.4 C292.3,159.3 294.5,158.3 296.8,157.2 C299.2,156.1 301.6,155.0 304.1,154.0 C306.6,152.9 309.2,151.9 311.9,150.9 C314.6,149.8 317.3,148.8 320.1,147.9 C322.9,146.9 325.8,145.9 328.7,145.0 C331.6,144.0 334.6,143.1 337.6,142.2 C340.5,141.4 343.6,140.5 346.6,139.7 C349.6,138.9 352.6,138.1 355.6,137.4 C358.6,136.7 361.7,136.0 364.6,135.3 C367.6,134.7 370.6,134.1 373.5,133.5 C376.4,133.0 379.3,132.5 382.2,132.1 C385.0,131.6 387.8,131.2 390.5,130.9 C393.2,130.5 395.8,130.2 398.4,130.0 C400.9,129.7 403.4,129.6 405.7,129.4 C408.1,129.3 410.4,129.2 412.5,129.2 C414.7,129.2 416.7,129.3 418.7,129.4 C420.6,129.5 422.4,129.6 424.1,129.8 C425.7,130.0 427.3,130.3 428.7,130.6 C430.1,130.9 431.3,131.3 432.4,131.7 C433.6,132.1 434.5,132.6 435.3,133.1 C436.1,133.7 436.8,134.2 437.3,134.9 C437.8,135.5 438.2,136.5 438.4,136.9" fill="none" stroke="#0a0a14" stroke-width="0.85" stroke-opacity="0.9"/><path d="M442.5,135.7 C442.7,136.6 443.3,139.3 443.4,141.1 C443.5,142.9 443.5,144.8 443.3,146.6 C443.1,148.5 442.7,150.4 442.2,152.3 C441.7,154.2 441.0,156.2 440.1,158.1 C439.2,160.0 438.2,162.0 437.1,163.9 C435.9,165.8 434.5,167.7 433.1,169.6 C431.6,171.5 429.9,173.4 428.2,175.3 C426.4,177.1 424.5,179.0 422.5,180.8 C420.4,182.6 418.3,184.3 416.0,186.0 C413.7,187.7 411.3,189.4 408.8,191.0 C406.3,192.6 403.7,194.1 401.0,195.6 C398.3,197.1 395.5,198.5 392.7,199.8 C389.8,201.2 386.9,202.5 383.9,203.6 C380.9,204.8 377.8,205.9 374.7,207.0 C371.6,208.0 368.5,208.9 365.3,209.8 C362.2,210.6 359.0,211.4 355.8,212.0 C352.6,212.7 349.4,213.3 346.2,213.7 C343.0,214.2 339.9,214.6 336.7,214.8 C333.6,215.1 330.4,215.3 327.4,215.3 C324.3,215.4 321.3,215.4 318.3,215.2 C315.3,215.1 312.4,214.9 309.6,214.5 C306.8,214.2 304.0,213.8 301.4,213.2 C298.7,212.7 296.1,212.1 293.7,211.3 C291.2,210.6 288.8,209.8 286.6,208.9 C284.4,208.0 282.3,207.0 280.3,205.9 C278.3,204.8 276.4,203.6 274.7,202.4 C273.0,201.2 271.5,199.8 270.0,198.4 C268.6,197.1 267.4,195.6 266.2,194.1 C265.1,192.6 264.2,191.0 263.4,189.3 C262.6,187.7 261.8,185.5 261.5,184.3 C261.2,183.0 261.3,182.7 261.4,181.9 C261.5,181.1 261.8,180.2 262.3,179.3 C262.7,178.4 263.4,177.5 264.2,176.5 C264.9,175.5 265.9,174.5 267.0,173.5 C268.1,172.5 269.4,171.4 270.8,170.4 C272.2,169.3 273.7,168.2 275.4,167.1 C277.1,166.0 279.0,164.9 280.9,163.8 C282.9,162.7 285.0,161.5 287.2,160.4 C289.4,159.3 291.8,158.2 294.2,157.0 C296.6,155.9 299.2,154.8 301.8,153.7 C304.4,152.6 307.2,151.5 310.0,150.4 C312.8,149.4 315.7,148.3 318.6,147.3 C321.5,146.2 324.6,145.2 327.6,144.2 C330.7,143.3 333.8,142.3 336.9,141.4 C340.0,140.5 343.1,139.6 346.3,138.7 C349.5,137.9 352.6,137.1 355.8,136.3 C358.9,135.5 362.1,134.8 365.2,134.2 C368.4,133.5 371.5,132.9 374.5,132.3 C377.6,131.7 380.6,131.2 383.6,130.7 C386.6,130.2 389.5,129.8 392.3,129.5 C395.1,129.1 397.9,128.8 400.6,128.5 C403.3,128.3 405.8,128.1 408.3,128.0 C410.8,127.8 413.2,127.8 415.4,127.7 C417.7,127.7 419.9,127.8 421.9,127.9 C423.9,128.0 425.8,128.1 427.5,128.4 C429.3,128.6 430.9,128.9 432.4,129.2 C433.8,129.5 435.2,129.9 436.3,130.4 C437.5,130.8 438.5,131.3 439.3,131.9 C440.2,132.4 440.9,133.0 441.4,133.7 C441.9,134.3 442.3,135.4 442.5,135.7" fill="none" stroke="#0a0a14" stroke-width="0.85" stroke-opacity="0.9"/><path d="M448.6,134.1 C448.8,135.1 449.4,137.9 449.6,139.8 C449.7,141.7 449.7,143.7 449.4,145.7 C449.2,147.7 448.8,149.8 448.3,151.8 C447.7,153.8 446.9,155.9 446.0,158.0 C445.1,160.0 444.0,162.1 442.8,164.1 C441.5,166.2 440.1,168.3 438.5,170.3 C436.9,172.3 435.2,174.3 433.3,176.3 C431.4,178.3 429.4,180.3 427.2,182.2 C425.0,184.1 422.7,185.9 420.3,187.8 C417.9,189.6 415.3,191.4 412.6,193.1 C410.0,194.8 407.2,196.4 404.3,198.0 C401.4,199.6 398.4,201.1 395.4,202.5 C392.3,204.0 389.2,205.3 386.0,206.6 C382.8,207.9 379.5,209.0 376.3,210.1 C373.0,211.2 369.6,212.2 366.2,213.1 C362.9,214.0 359.5,214.8 356.1,215.5 C352.7,216.2 349.2,216.8 345.8,217.3 C342.4,217.8 339.0,218.2 335.7,218.5 C332.3,218.8 329.0,219.0 325.7,219.1 C322.4,219.1 319.2,219.1 316.0,218.9 C312.9,218.8 309.8,218.6 306.7,218.2 C303.7,217.8 300.8,217.4 297.9,216.8 C295.1,216.2 292.4,215.6 289.7,214.8 C287.1,214.0 284.6,213.1 282.2,212.2 C279.8,211.2 277.6,210.1 275.5,209.0 C273.4,207.8 271.4,206.6 269.5,205.3 C267.7,203.9 266.0,202.5 264.5,201.0 C263.0,199.6 261.7,198.0 260.5,196.4 C259.3,194.7 258.3,193.0 257.4,191.3 C256.6,189.5 255.8,187.2 255.4,185.9 C255.1,184.6 255.2,184.2 255.3,183.4 C255.4,182.5 255.8,181.6 256.3,180.6 C256.7,179.6 257.4,178.6 258.3,177.6 C259.1,176.6 260.1,175.5 261.3,174.4 C262.5,173.3 263.8,172.2 265.3,171.1 C266.8,169.9 268.5,168.8 270.3,167.6 C272.1,166.4 274.1,165.2 276.1,164.0 C278.2,162.9 280.5,161.6 282.8,160.4 C285.2,159.3 287.7,158.0 290.3,156.8 C292.9,155.7 295.6,154.5 298.4,153.3 C301.2,152.1 304.2,150.9 307.2,149.8 C310.1,148.6 313.2,147.5 316.4,146.4 C319.5,145.3 322.7,144.2 326.0,143.2 C329.2,142.1 332.5,141.1 335.9,140.1 C339.2,139.2 342.6,138.2 345.9,137.3 C349.3,136.4 352.7,135.5 356.0,134.7 C359.4,133.9 362.8,133.1 366.1,132.4 C369.5,131.7 372.8,131.0 376.1,130.4 C379.3,129.8 382.6,129.2 385.7,128.7 C388.9,128.2 392.0,127.8 395.0,127.4 C398.0,127.0 401.0,126.7 403.9,126.4 C406.7,126.2 409.5,126.0 412.1,125.8 C414.8,125.7 417.3,125.6 419.7,125.6 C422.1,125.6 424.4,125.6 426.6,125.7 C428.7,125.8 430.7,126.0 432.6,126.2 C434.5,126.5 436.2,126.8 437.8,127.1 C439.3,127.5 440.7,127.9 442.0,128.4 C443.2,128.8 444.3,129.4 445.2,130.0 C446.1,130.6 446.9,131.2 447.4,131.9 C448.0,132.6 448.4,133.7 448.6,134.1" fill="none" stroke="#0a0a14" stroke-width="0.85" stroke-opacity="0.9"/><path d="M459.2,131.3 C459.4,132.3 460.1,135.4 460.3,137.6 C460.4,139.7 460.4,141.9 460.2,144.2 C459.9,146.4 459.5,148.6 458.9,150.9 C458.2,153.2 457.4,155.5 456.4,157.7 C455.4,160.0 454.1,162.3 452.8,164.6 C451.4,166.9 449.8,169.2 448.0,171.4 C446.3,173.7 444.3,175.9 442.3,178.1 C440.2,180.3 437.9,182.5 435.5,184.6 C433.1,186.7 430.5,188.8 427.8,190.8 C425.1,192.8 422.3,194.8 419.3,196.7 C416.3,198.6 413.2,200.4 410.0,202.2 C406.9,203.9 403.5,205.6 400.2,207.2 C396.8,208.8 393.3,210.3 389.7,211.7 C386.2,213.1 382.6,214.4 378.9,215.6 C375.3,216.9 371.5,218.0 367.8,219.0 C364.1,220.0 360.3,220.9 356.5,221.6 C352.7,222.4 348.9,223.1 345.2,223.7 C341.4,224.2 337.6,224.6 333.9,225.0 C330.2,225.3 326.5,225.5 322.8,225.6 C319.2,225.6 315.6,225.6 312.1,225.4 C308.6,225.3 305.1,225.0 301.8,224.6 C298.4,224.2 295.1,223.7 292.0,223.0 C288.9,222.4 285.8,221.7 282.9,220.8 C280.0,220.0 277.2,219.0 274.5,217.9 C271.9,216.8 269.4,215.6 267.0,214.4 C264.7,213.1 262.5,211.7 260.5,210.2 C258.5,208.8 256.6,207.2 254.9,205.5 C253.2,203.9 251.7,202.2 250.4,200.4 C249.1,198.6 248.0,196.7 247.0,194.7 C246.1,192.8 245.2,190.2 244.8,188.7 C244.4,187.3 244.5,186.9 244.7,185.9 C244.8,185.0 245.2,183.9 245.7,182.9 C246.3,181.8 247.0,180.7 247.9,179.5 C248.9,178.4 250.0,177.2 251.3,176.0 C252.6,174.8 254.1,173.5 255.8,172.3 C257.4,171.0 259.3,169.7 261.3,168.4 C263.3,167.1 265.5,165.8 267.8,164.5 C270.1,163.2 272.6,161.8 275.2,160.5 C277.9,159.2 280.6,157.8 283.5,156.5 C286.4,155.2 289.4,153.8 292.5,152.5 C295.7,151.2 298.9,149.9 302.2,148.7 C305.5,147.4 309.0,146.1 312.4,144.9 C315.9,143.7 319.5,142.5 323.1,141.3 C326.7,140.2 330.4,139.0 334.1,137.9 C337.8,136.9 341.5,135.8 345.2,134.8 C349.0,133.8 352.8,132.8 356.5,131.9 C360.2,131.0 364.0,130.2 367.7,129.4 C371.4,128.6 375.1,127.8 378.7,127.2 C382.3,126.5 385.9,125.9 389.4,125.3 C393.0,124.7 396.4,124.2 399.8,123.8 C403.1,123.4 406.4,123.0 409.6,122.7 C412.7,122.4 415.8,122.2 418.7,122.1 C421.7,121.9 424.5,121.8 427.2,121.8 C429.8,121.8 432.4,121.8 434.8,121.9 C437.2,122.1 439.4,122.3 441.5,122.5 C443.5,122.8 445.5,123.1 447.2,123.5 C448.9,123.9 450.5,124.4 451.9,124.9 C453.3,125.4 454.5,126.0 455.5,126.7 C456.5,127.3 457.3,128.0 457.9,128.8 C458.5,129.6 459.0,130.9 459.2,131.3" fill="none" stroke="#0a0a14" stroke-width="0.85" stroke-opacity="0.9"/></g><polygon points="69,130.7 79,133.2 86.5,136.5 109.7,139.8 131.2,142.3 91.5,175 98.5,190 97.5,190" fill="#6b983c" /><polygon points="349,330.3 347,300 352,290 372,239 376,238 388,233.5 413,229.5 434,233.6 460.7,240.2 503,241.5 540.5,265 500,279.5 463,290.5 435,297.5 406,305.7 375,318" fill="url(#gRight)" /><g clip-path="url(#cRIGHT)"><path d="M509.6,236.0 C509.6,236.2 509.6,236.7 509.5,237.0 C509.4,237.4 509.2,237.7 509.0,238.1 C508.8,238.4 508.6,238.7 508.3,239.0 C508.0,239.3 507.7,239.6 507.4,239.9 C507.0,240.1 506.6,240.4 506.2,240.6 C505.7,240.8 505.3,241.0 504.8,241.2 C504.3,241.4 503.8,241.5 503.3,241.6 C502.8,241.8 502.2,241.8 501.7,241.9 C501.1,242.0 500.6,242.0 500.0,242.0 C499.4,242.0 498.9,242.0 498.3,241.9 C497.8,241.8 497.2,241.8 496.7,241.6 C496.2,241.5 495.7,241.4 495.2,241.2 C494.7,241.0 494.3,240.8 493.8,240.6 C493.4,240.4 493.0,240.1 492.6,239.9 C492.3,239.6 492.0,239.3 491.7,239.0 C491.4,238.7 491.2,238.4 491.0,238.1 C490.8,237.7 490.6,237.4 490.5,237.0 C490.4,236.7 490.4,236.2 490.4,236.0" fill="none" stroke="#0a0a14" stroke-width="0.7" stroke-opacity="0.9"/><path d="M518.1,236.0 C518.0,236.3 518.0,237.3 517.8,238.0 C517.6,238.6 517.3,239.3 517.0,239.9 C516.6,240.5 516.2,241.1 515.7,241.7 C515.1,242.2 514.5,242.8 513.9,243.3 C513.2,243.8 512.4,244.2 511.6,244.7 C510.8,245.1 509.9,245.5 509.0,245.8 C508.1,246.1 507.2,246.4 506.2,246.6 C505.2,246.8 504.2,247.0 503.1,247.1 C502.1,247.2 501.0,247.3 500.0,247.3 C499.0,247.3 497.9,247.2 496.9,247.1 C495.8,247.0 494.8,246.8 493.8,246.6 C492.8,246.4 491.9,246.1 491.0,245.8 C490.1,245.5 489.2,245.1 488.4,244.7 C487.6,244.2 486.8,243.8 486.1,243.3 C485.5,242.8 484.9,242.2 484.3,241.7 C483.8,241.1 483.4,240.5 483.0,239.9 C482.7,239.3 482.4,238.6 482.2,238.0 C482.0,237.3 482.0,236.3 481.9,236.0" fill="none" stroke="#0a0a14" stroke-width="0.7" stroke-opacity="0.9"/><path d="M526.6,236.0 C526.5,236.5 526.4,237.9 526.2,238.9 C525.9,239.8 525.5,240.8 525.0,241.7 C524.4,242.6 523.8,243.5 523.0,244.3 C522.2,245.1 521.3,245.9 520.3,246.7 C519.4,247.4 518.3,248.1 517.1,248.7 C515.9,249.3 514.6,249.9 513.3,250.4 C511.9,250.9 510.5,251.3 509.1,251.6 C507.6,251.9 506.1,252.2 504.6,252.3 C503.1,252.5 501.5,252.6 500.0,252.6 C498.5,252.6 496.9,252.5 495.4,252.3 C493.9,252.2 492.4,251.9 490.9,251.6 C489.5,251.3 488.1,250.9 486.7,250.4 C485.4,249.9 484.1,249.3 482.9,248.7 C481.7,248.1 480.6,247.4 479.7,246.7 C478.7,245.9 477.8,245.1 477.0,244.3 C476.2,243.5 475.6,242.6 475.0,241.7 C474.5,240.8 474.1,239.8 473.8,238.9 C473.6,237.9 473.5,236.5 473.4,236.0" fill="none" stroke="#0a0a14" stroke-width="0.7" stroke-opacity="0.9"/><path d="M535.0,236.0 C535.0,236.6 534.9,238.6 534.5,239.8 C534.2,241.1 533.6,242.3 532.9,243.5 C532.2,244.7 531.4,245.9 530.3,246.9 C529.3,248.0 528.1,249.1 526.8,250.1 C525.5,251.0 524.1,252.0 522.5,252.8 C521.0,253.6 519.3,254.3 517.5,255.0 C515.8,255.6 513.9,256.1 512.0,256.6 C510.1,257.0 508.1,257.3 506.1,257.6 C504.1,257.8 502.0,257.9 500.0,257.9 C498.0,257.9 495.9,257.8 493.9,257.6 C491.9,257.3 489.9,257.0 488.0,256.6 C486.1,256.1 484.2,255.6 482.5,255.0 C480.7,254.3 479.0,253.6 477.5,252.8 C475.9,252.0 474.5,251.0 473.2,250.1 C471.9,249.1 470.7,248.0 469.7,246.9 C468.6,245.9 467.8,244.7 467.1,243.5 C466.4,242.3 465.8,241.1 465.5,239.8 C465.1,238.6 465.0,236.6 465.0,236.0" fill="none" stroke="#0a0a14" stroke-width="0.7" stroke-opacity="0.9"/><path d="M543.5,236.0 C543.4,236.8 543.3,239.2 542.9,240.7 C542.4,242.3 541.8,243.8 540.9,245.3 C540.0,246.8 538.9,248.2 537.7,249.6 C536.4,251.0 535.0,252.3 533.3,253.5 C531.7,254.7 529.9,255.8 528.0,256.8 C526.0,257.8 523.9,258.8 521.8,259.6 C519.6,260.3 517.3,261.0 514.9,261.6 C512.5,262.1 510.0,262.5 507.6,262.8 C505.1,263.1 502.5,263.2 500.0,263.2 C497.5,263.2 494.9,263.1 492.4,262.8 C490.0,262.5 487.5,262.1 485.1,261.6 C482.7,261.0 480.4,260.3 478.2,259.6 C476.1,258.8 474.0,257.8 472.0,256.8 C470.1,255.8 468.3,254.7 466.7,253.5 C465.0,252.3 463.6,251.0 462.3,249.6 C461.1,248.2 460.0,246.8 459.1,245.3 C458.2,243.8 457.6,242.3 457.1,240.7 C456.7,239.2 456.6,236.8 456.5,236.0" fill="none" stroke="#0a0a14" stroke-width="0.7" stroke-opacity="0.9"/><path d="M552.0,236.0 C551.9,236.9 551.7,239.8 551.2,241.6 C550.7,243.5 549.9,245.3 548.9,247.1 C547.8,248.9 546.5,250.6 545.0,252.2 C543.5,253.9 541.8,255.4 539.8,256.9 C537.9,258.3 535.7,259.7 533.4,260.9 C531.1,262.1 528.6,263.2 526.0,264.1 C523.4,265.1 520.6,265.9 517.8,266.5 C515.0,267.2 512.0,267.7 509.0,268.0 C506.1,268.3 503.0,268.5 500.0,268.5 C497.0,268.5 493.9,268.3 491.0,268.0 C488.0,267.7 485.0,267.2 482.2,266.5 C479.4,265.9 476.6,265.1 474.0,264.1 C471.4,263.2 468.9,262.1 466.6,260.9 C464.3,259.7 462.1,258.3 460.2,256.9 C458.2,255.4 456.5,253.9 455.0,252.2 C453.5,250.6 452.2,248.9 451.1,247.1 C450.1,245.3 449.3,243.5 448.8,241.6 C448.3,239.8 448.1,236.9 448.0,236.0" fill="none" stroke="#0a0a14" stroke-width="0.7" stroke-opacity="0.9"/><path d="M560.5,236.0 C560.3,237.1 560.2,240.4 559.6,242.6 C559.0,244.7 558.0,246.9 556.8,248.9 C555.6,251.0 554.1,253.0 552.4,254.9 C550.6,256.8 548.6,258.6 546.3,260.3 C544.1,262.0 541.6,263.6 538.9,265.0 C536.2,266.4 533.3,267.6 530.2,268.7 C527.2,269.8 524.0,270.8 520.7,271.5 C517.4,272.3 513.9,272.8 510.5,273.2 C507.1,273.6 503.5,273.8 500.0,273.8 C496.5,273.8 492.9,273.6 489.5,273.2 C486.1,272.8 482.6,272.3 479.3,271.5 C476.0,270.8 472.8,269.8 469.8,268.7 C466.7,267.6 463.8,266.4 461.1,265.0 C458.4,263.6 455.9,262.0 453.7,260.3 C451.4,258.6 449.4,256.8 447.6,254.9 C445.9,253.0 444.4,251.0 443.2,248.9 C442.0,246.9 441.0,244.7 440.4,242.6 C439.8,240.4 439.7,237.1 439.5,236.0" fill="none" stroke="#0a0a14" stroke-width="0.7" stroke-opacity="0.9"/><path d="M569.0,236.0 C568.8,237.2 568.6,241.0 567.9,243.5 C567.2,245.9 566.2,248.4 564.8,250.7 C563.4,253.1 561.7,255.4 559.7,257.6 C557.7,259.7 555.4,261.8 552.8,263.7 C550.3,265.6 547.4,267.4 544.3,269.0 C541.3,270.6 537.9,272.1 534.5,273.3 C531.0,274.6 527.3,275.6 523.6,276.5 C519.8,277.4 515.9,278.0 512.0,278.4 C508.0,278.9 504.0,279.1 500.0,279.1 C496.0,279.1 492.0,278.9 488.0,278.4 C484.1,278.0 480.2,277.4 476.4,276.5 C472.7,275.6 469.0,274.6 465.5,273.3 C462.1,272.1 458.7,270.6 455.7,269.0 C452.6,267.4 449.7,265.6 447.2,263.7 C444.6,261.8 442.3,259.7 440.3,257.6 C438.3,255.4 436.6,253.1 435.2,250.7 C433.8,248.4 432.8,245.9 432.1,243.5 C431.4,241.0 431.2,237.2 431.0,236.0" fill="none" stroke="#0a0a14" stroke-width="0.7" stroke-opacity="0.9"/><path d="M577.4,236.0 C577.2,237.4 577.0,241.6 576.3,244.4 C575.5,247.2 574.3,249.9 572.8,252.6 C571.2,255.2 569.3,257.8 567.1,260.2 C564.8,262.6 562.2,265.0 559.3,267.1 C556.4,269.3 553.2,271.3 549.8,273.1 C546.3,274.9 542.6,276.5 538.7,277.9 C534.8,279.3 530.7,280.5 526.5,281.5 C522.3,282.4 517.9,283.2 513.4,283.7 C509.0,284.2 504.5,284.4 500.0,284.4 C495.5,284.4 491.0,284.2 486.6,283.7 C482.1,283.2 477.7,282.4 473.5,281.5 C469.3,280.5 465.2,279.3 461.3,277.9 C457.4,276.5 453.7,274.9 450.2,273.1 C446.8,271.3 443.6,269.3 440.7,267.1 C437.8,265.0 435.2,262.6 432.9,260.2 C430.7,257.8 428.8,255.2 427.2,252.6 C425.7,249.9 424.5,247.2 423.7,244.4 C423.0,241.6 422.8,237.4 422.6,236.0" fill="none" stroke="#0a0a14" stroke-width="0.7" stroke-opacity="0.9"/><path d="M585.9,236.0 C585.7,237.6 585.5,242.3 584.6,245.3 C583.8,248.4 582.4,251.4 580.7,254.4 C579.0,257.3 576.9,260.2 574.4,262.9 C571.9,265.5 569.0,268.1 565.8,270.5 C562.6,272.9 559.0,275.1 555.2,277.1 C551.4,279.1 547.3,281.0 543.0,282.5 C538.7,284.1 534.1,285.4 529.4,286.5 C524.7,287.5 519.8,288.3 514.9,288.9 C510.0,289.4 505.0,289.7 500.0,289.7 C495.0,289.7 490.0,289.4 485.1,288.9 C480.2,288.3 475.3,287.5 470.6,286.5 C465.9,285.4 461.3,284.1 457.0,282.5 C452.7,281.0 448.6,279.1 444.8,277.1 C441.0,275.1 437.4,272.9 434.2,270.5 C431.0,268.1 428.1,265.5 425.6,262.9 C423.1,260.2 421.0,257.3 419.3,254.4 C417.6,251.4 416.2,248.4 415.4,245.3 C414.5,242.3 414.3,237.6 414.1,236.0" fill="none" stroke="#0a0a14" stroke-width="0.7" stroke-opacity="0.9"/><path d="M594.4,236.0 C594.2,237.7 593.9,242.9 593.0,246.2 C592.0,249.6 590.6,253.0 588.7,256.2 C586.8,259.4 584.5,262.5 581.8,265.5 C579.0,268.5 575.8,271.3 572.3,273.9 C568.8,276.5 564.9,279.0 560.7,281.2 C556.5,283.4 551.9,285.4 547.2,287.1 C542.5,288.8 537.4,290.3 532.3,291.4 C527.2,292.6 521.8,293.5 516.4,294.1 C511.0,294.7 505.5,295.0 500.0,295.0 C494.5,295.0 489.0,294.7 483.6,294.1 C478.2,293.5 472.8,292.6 467.7,291.4 C462.6,290.3 457.5,288.8 452.8,287.1 C448.1,285.4 443.5,283.4 439.3,281.2 C435.1,279.0 431.2,276.5 427.7,273.9 C424.2,271.3 421.0,268.5 418.2,265.5 C415.5,262.5 413.2,259.4 411.3,256.2 C409.4,253.0 408.0,249.6 407.0,246.2 C406.1,242.9 405.8,237.7 405.6,236.0" fill="none" stroke="#0a0a14" stroke-width="0.7" stroke-opacity="0.9"/><path d="M602.9,236.0 C602.6,237.9 602.4,243.5 601.3,247.2 C600.3,250.8 598.7,254.5 596.7,258.0 C594.6,261.5 592.1,264.9 589.1,268.1 C586.1,271.4 582.6,274.5 578.8,277.3 C575.0,280.2 570.7,282.9 566.1,285.3 C561.6,287.6 556.6,289.8 551.4,291.7 C546.3,293.5 540.8,295.1 535.2,296.4 C529.6,297.7 523.7,298.7 517.9,299.3 C512.0,300.0 506.0,300.3 500.0,300.3 C494.0,300.3 488.0,300.0 482.1,299.3 C476.3,298.7 470.4,297.7 464.8,296.4 C459.2,295.1 453.7,293.5 448.6,291.7 C443.4,289.8 438.4,287.6 433.9,285.3 C429.3,282.9 425.0,280.2 421.2,277.3 C417.4,274.5 413.9,271.4 410.9,268.1 C407.9,264.9 405.4,261.5 403.3,258.0 C401.3,254.5 399.7,250.8 398.7,247.2 C397.6,243.5 397.4,237.9 397.1,236.0" fill="none" stroke="#0a0a14" stroke-width="0.7" stroke-opacity="0.9"/><path d="M611.4,236.0 C611.1,238.0 610.8,244.1 609.7,248.1 C608.5,252.1 606.8,256.0 604.6,259.8 C602.4,263.6 599.7,267.3 596.4,270.8 C593.2,274.3 589.5,277.7 585.3,280.7 C581.2,283.8 576.5,286.7 571.6,289.3 C566.6,291.9 561.3,294.3 555.7,296.3 C550.1,298.3 544.1,300.0 538.1,301.4 C532.0,302.8 525.7,303.8 519.3,304.5 C513.0,305.2 506.4,305.6 500.0,305.6 C493.6,305.6 487.0,305.2 480.7,304.5 C474.3,303.8 468.0,302.8 461.9,301.4 C455.9,300.0 449.9,298.3 444.3,296.3 C438.7,294.3 433.4,291.9 428.4,289.3 C423.5,286.7 418.8,283.8 414.7,280.7 C410.5,277.7 406.8,274.3 403.6,270.8 C400.3,267.3 397.6,263.6 395.4,259.8 C393.2,256.0 391.5,252.1 390.3,248.1 C389.2,244.1 388.9,238.0 388.6,236.0" fill="none" stroke="#0a0a14" stroke-width="0.7" stroke-opacity="0.9"/><path d="M619.8,236.0 C619.5,238.2 619.2,244.7 618.0,249.0 C616.8,253.3 615.0,257.5 612.6,261.6 C610.2,265.7 607.3,269.7 603.8,273.4 C600.3,277.2 596.3,280.8 591.8,284.1 C587.3,287.5 582.3,290.6 577.0,293.4 C571.7,296.2 565.9,298.7 559.9,300.9 C553.9,303.0 547.5,304.9 541.0,306.4 C534.5,307.9 527.6,309.0 520.8,309.8 C514.0,310.5 506.9,310.9 500.0,310.9 C493.1,310.9 486.0,310.5 479.2,309.8 C472.4,309.0 465.5,307.9 459.0,306.4 C452.5,304.9 446.1,303.0 440.1,300.9 C434.1,298.7 428.3,296.2 423.0,293.4 C417.7,290.6 412.7,287.5 408.2,284.1 C403.7,280.8 399.7,277.2 396.2,273.4 C392.7,269.7 389.8,265.7 387.4,261.6 C385.0,257.5 383.2,253.3 382.0,249.0 C380.8,244.7 380.5,238.2 380.2,236.0" fill="none" stroke="#0a0a14" stroke-width="0.7" stroke-opacity="0.9"/><path d="M628.3,236.0 C628.0,238.3 627.7,245.4 626.4,249.9 C625.1,254.5 623.1,259.1 620.6,263.4 C618.0,267.8 614.8,272.1 611.1,276.1 C607.4,280.1 603.1,284.0 598.3,287.6 C593.5,291.1 588.2,294.5 582.5,297.4 C576.8,300.4 570.6,303.1 564.2,305.5 C557.7,307.8 550.9,309.8 543.9,311.4 C536.9,313.0 529.6,314.2 522.3,315.0 C515.0,315.8 507.4,316.2 500.0,316.2 C492.6,316.2 485.0,315.8 477.7,315.0 C470.4,314.2 463.1,313.0 456.1,311.4 C449.1,309.8 442.3,307.8 435.8,305.5 C429.4,303.1 423.2,300.4 417.5,297.4 C411.8,294.5 406.5,291.1 401.7,287.6 C396.9,284.0 392.6,280.1 388.9,276.1 C385.2,272.1 382.0,267.8 379.4,263.4 C376.9,259.1 374.9,254.5 373.6,249.9 C372.3,245.4 372.0,238.3 371.7,236.0" fill="none" stroke="#0a0a14" stroke-width="0.7" stroke-opacity="0.9"/><path d="M636.8,236.0 C636.5,238.5 636.1,246.0 634.7,250.8 C633.3,255.7 631.3,260.6 628.5,265.2 C625.8,269.9 622.4,274.5 618.5,278.8 C614.5,283.0 609.9,287.2 604.8,291.0 C599.7,294.7 594.0,298.3 587.9,301.5 C581.9,304.7 575.3,307.6 568.4,310.0 C561.5,312.5 554.2,314.7 546.8,316.3 C539.3,318.0 531.6,319.3 523.8,320.2 C516.0,321.1 507.9,321.5 500.0,321.5 C492.1,321.5 484.0,321.1 476.2,320.2 C468.4,319.3 460.7,318.0 453.2,316.3 C445.8,314.7 438.5,312.5 431.6,310.0 C424.7,307.6 418.1,304.7 412.1,301.5 C406.0,298.3 400.3,294.7 395.2,291.0 C390.1,287.2 385.5,283.0 381.5,278.8 C377.6,274.5 374.2,269.9 371.5,265.2 C368.7,260.6 366.7,255.7 365.3,250.8 C363.9,246.0 363.5,238.5 363.2,236.0" fill="none" stroke="#0a0a14" stroke-width="0.7" stroke-opacity="0.9"/><path d="M645.3,236.0 C644.9,238.6 644.5,246.6 643.1,251.8 C641.6,256.9 639.4,262.1 636.5,267.1 C633.6,272.0 630.0,276.8 625.8,281.4 C621.6,286.0 616.7,290.3 611.3,294.4 C605.9,298.4 599.8,302.2 593.4,305.6 C586.9,308.9 579.9,312.0 572.6,314.6 C565.4,317.3 557.6,319.5 549.7,321.3 C541.8,323.1 533.5,324.5 525.2,325.4 C516.9,326.3 508.4,326.8 500.0,326.8 C491.6,326.8 483.1,326.3 474.8,325.4 C466.5,324.5 458.2,323.1 450.3,321.3 C442.4,319.5 434.6,317.3 427.4,314.6 C420.1,312.0 413.1,308.9 406.6,305.6 C400.2,302.2 394.1,298.4 388.7,294.4 C383.3,290.3 378.4,286.0 374.2,281.4 C370.0,276.8 366.4,272.0 363.5,267.1 C360.6,262.1 358.4,256.9 356.9,251.8 C355.5,246.6 355.1,238.6 354.7,236.0" fill="none" stroke="#0a0a14" stroke-width="0.7" stroke-opacity="0.9"/><path d="M653.8,236.0 C653.4,238.8 653.0,247.2 651.4,252.7 C649.9,258.2 647.5,263.6 644.5,268.9 C641.4,274.1 637.6,279.2 633.2,284.1 C628.7,288.9 623.5,293.5 617.8,297.8 C612.1,302.0 605.7,306.0 598.8,309.6 C592.0,313.2 584.6,316.4 576.9,319.2 C569.2,322.0 561.0,324.4 552.6,326.3 C544.2,328.2 535.5,329.7 526.7,330.6 C517.9,331.6 508.9,332.1 500.0,332.1 C491.1,332.1 482.1,331.6 473.3,330.6 C464.5,329.7 455.8,328.2 447.4,326.3 C439.0,324.4 430.8,322.0 423.1,319.2 C415.4,316.4 408.0,313.2 401.2,309.6 C394.3,306.0 387.9,302.0 382.2,297.8 C376.5,293.5 371.3,288.9 366.8,284.1 C362.4,279.2 358.6,274.1 355.5,268.9 C352.5,263.6 350.1,258.2 348.6,252.7 C347.0,247.2 346.6,238.8 346.2,236.0" fill="none" stroke="#0a0a14" stroke-width="0.7" stroke-opacity="0.9"/></g><polygon points="372,186 384,176.6 423.3,178.9 462.7,202 411.7,213.7 388.5,211.4 372,212" fill="url(#gDG)" /><g clip-path="url(#cDG)"><line x1="382" y1="212" x2="481.6" y2="203.3" stroke="#081010" stroke-width="0.7"/><line x1="382" y1="212" x2="480.2" y2="192.9" stroke="#081010" stroke-width="0.7"/><line x1="382" y1="212" x2="477.6" y2="182.8" stroke="#081010" stroke-width="0.7"/><line x1="382" y1="212" x2="474.1" y2="172.9" stroke="#081010" stroke-width="0.7"/><line x1="382" y1="212" x2="469.5" y2="163.5" stroke="#081010" stroke-width="0.7"/><line x1="382" y1="212" x2="463.9" y2="154.6" stroke="#081010" stroke-width="0.7"/><line x1="382" y1="212" x2="457.5" y2="146.4" stroke="#081010" stroke-width="0.7"/><line x1="382" y1="212" x2="450.2" y2="138.9" stroke="#081010" stroke-width="0.7"/><line x1="382" y1="212" x2="442.2" y2="132.1" stroke="#081010" stroke-width="0.7"/><line x1="382" y1="212" x2="433.5" y2="126.3" stroke="#081010" stroke-width="0.7"/><line x1="382" y1="212" x2="424.3" y2="121.4" stroke="#081010" stroke-width="0.7"/></g><polygon points="375.8,178 387,178 384,225 374,226" fill="url(#sp)" /><polygon points="63.5,98 100,103 140,108.5 156,109 187.7,111.2 206,113.3 232.7,112.5 259,115.7 300,120.5 319,123.8 344,127.8 355.7,131.9 365.6,134.3 379.5,136.2 395.4,137.4 412,138.8 413,179.5 385.6,179.5 370,173.8 352.8,166.4 345,159.5 335,155 326.3,152.6 322,150.5 316.6,147.2 310.1,142.9 301.5,137.5 290.8,133.2 280,131.6 272.5,131 246,128.4 219.5,125.8 193,124 166.5,123 150,127 147.7,131.6 131.2,142.3 109.7,139.8 86.5,136.5 79,133.2" fill="url(#sp)" filter="url(#blr)"/><polygon points="292,169 295,167.7 299.4,164.4 306.9,159 315.5,154.8 326.3,153.1 335,155 345,159.5 333.8,157.2 326.3,156.2 317.7,162.3 312.3,165.5 306.9,168.8 298.3,170.9" fill="url(#sp)" filter="url(#blr)"/><polygon points="263.5,192.5 292,169.5 298.3,170.9 306.9,168.8 310,169.5 304.8,175.2 290,184 266.5,196" fill="#ffffff" /><polygon points="249,249 287,243.2 360,230.5 383.6,224.8 420,217 420,230.5 388,235.6 372.8,240 364,241.5 323.8,250 289.4,261 250,266" fill="url(#sp)" filter="url(#blr)"/><polygon points="360,229.6 362,226 380,219 413,211 503,193.8 503,241.5 460.7,240.2 434,233.6 413,231.5 388,235.6 376,240 360,249.5" fill="url(#sp)" filter="url(#blr)"/><polygon points="361,236 374,236 350,296 339.5,296" fill="url(#sp)" filter="url(#blr)"/><path d="M377,271 L394,253.5 L412,235.5" stroke="#e8e8e8" stroke-width="6" fill="none" stroke-dasharray="0.9 1.6" opacity="0.85"/><polygon points="373,267 380,271 364,290 357,289" fill="url(#sp)" filter="url(#blr)"/><polygon points="365.5,322 368,321 367.6,338 366.4,338" fill="url(#sp)" /><polygon points="340,294.5 346,292 353,290.5 351,302 349.6,329.5 343.5,324.5 342,306" fill="#ffffff" /><polygon points="461,273 463,268 470,261 477,255 484,249 488,246.5 486,251 479,259 471,267 466,273 462,276" fill="#ffffff" /><path d="M79.0,133.2 C80.2,133.8 81.4,135.4 86.5,136.5 C91.6,137.6 102.2,138.8 109.7,139.8 C117.2,140.8 127.6,141.9 131.2,142.3" stroke="#1fae38" stroke-width="1.4" fill="none" stroke-dasharray="1.8 1"/><path d="M147.7,131.6 C150.8,130.2 158.9,124.7 166.5,123.5 C174.1,122.3 184.2,124.0 193.0,124.5 C201.8,125.0 210.7,125.5 219.5,126.2 C228.3,126.9 237.2,127.9 246.0,128.8 C254.8,129.7 265.0,130.6 272.5,131.4 C280.0,132.2 286.0,132.4 290.8,133.5 C295.6,134.6 298.3,136.2 301.5,137.8 C304.7,139.4 307.6,141.6 310.1,143.2 C312.6,144.8 314.6,146.2 316.6,147.5 C318.6,148.8 320.4,149.9 322.0,150.8 C323.6,151.7 325.6,152.6 326.3,152.9" stroke="#1fae38" stroke-width="1.4" fill="none" stroke-dasharray="1.8 1"/><path d="M306.9,169.1 C307.8,168.6 310.5,166.9 312.3,165.8 C314.1,164.7 315.4,164.2 317.7,162.6 C320.0,161.0 323.6,157.3 326.3,156.5 C329.0,155.7 330.7,156.9 333.8,157.5 C336.9,158.1 343.1,159.4 345.0,159.8" stroke="#1fae38" stroke-width="1.4" fill="none" stroke-dasharray="1.8 1"/><path d="M336.2,160.2 C339.0,161.3 347.2,164.5 352.8,166.8 C358.4,169.1 367.1,173.0 370.0,174.2" stroke="#1fae38" stroke-width="1.4" fill="none" stroke-dasharray="1.8 1"/><path d="M250.0,266.3 C256.6,265.5 277.1,264.0 289.4,261.3 C301.7,258.6 311.4,253.9 323.8,250.3 C336.2,246.7 357.3,241.6 364.0,239.8" stroke="#1fae38" stroke-width="1.4" fill="none" stroke-dasharray="1.8 1"/><path d="M342.5,192.7 C344.6,191.5 350.6,187.7 355.0,185.5 C359.4,183.3 366.3,180.3 368.6,179.3" stroke="#f4f4f4" stroke-width="1.2" fill="none" stroke-dasharray="2.2 1.3"/><path d="M319.0,235.8 C322.5,231.8 332.9,219.5 340.0,212.0 C347.1,204.5 357.9,194.3 361.5,190.8" stroke="#f4f4f4" stroke-width="1.2" fill="none" stroke-dasharray="2.2 1.3"/><path d="M312.7,247.0 C309.8,252.8 301.6,269.7 295.0,282.0 C288.4,294.3 276.9,314.5 273.3,321.0" stroke="#f4f4f4" stroke-width="1.2" fill="none" stroke-dasharray="2.2 1.3"/><path d="M374.7,135.4 C375.6,137.0 378.8,141.7 380.0,145.0 C381.2,148.3 381.4,148.3 382.0,155.0 C382.6,161.7 383.3,180.0 383.6,185.0" stroke="#f6f6f6" stroke-width="1.4" fill="none"/><path d="M373.0,241.0 C371.7,243.8 367.7,252.2 365.0,258.0 C362.3,263.8 359.3,270.3 357.0,276.0 C354.7,281.7 352.0,289.3 351.0,292.0" stroke="#28c030" stroke-width="1.3" fill="none" stroke-dasharray="1.2 2.6"/><path d="M414.0,233.0 C417.5,233.5 428.7,234.9 435.0,236.0 C441.3,237.1 446.2,238.6 452.0,239.5 C457.8,240.4 467.0,241.2 470.0,241.5" stroke="#1a2a30" stroke-width="3.2" fill="none" stroke-dasharray="0.7 1.5" opacity="0.55"/><polygon points="151.7,296.6 240,262 247,248 287,239.6 360,226.5 369,222.5 420,211 420,215.5 360,231 287,244 250,250 250,266 242,272 151.7,306.5" fill="#b3192d" /><polygon points="138,108 141.5,108 149,131.5 145.5,131.5" fill="#e82226" /><polygon points="370.6,189.7 456.7,162 456.7,172 370.6,199" fill="rgba(232,30,40,0.62)" /><polygon points="369.5,190 374,189 374,224 369.5,226" fill="rgba(232,30,40,0.7)" /><polygon points="369,208.5 412,209.5 412,217 369,221" fill="rgba(232,30,40,0.75)" /><polygon points="409,212 415.5,212 438,253 442.5,272 437,268.5 431,255" fill="rgba(232,28,36,0.8)" /><polygon points="437.6,252.4 529.3,211.9 529.3,220.9 437.6,260.5" fill="rgba(232,30,40,0.62)" /><polygon points="481.5,204.4 484.5,204.4 498,244 495,244" fill="#e8202a" />
<text x="67.2" y="57.7" font-size="8" fill="#1e1e1e" text-anchor="start" letter-spacing="-0.35">5680000</text><text x="133" y="45.8" font-size="8" fill="#1e1e1e" text-anchor="start" letter-spacing="-0.35">5685000</text><text x="192" y="35" font-size="8" fill="#1e1e1e" text-anchor="start" letter-spacing="-0.35">5690000</text><text x="246.8" y="24.6" font-size="8" fill="#1e1e1e" text-anchor="start" letter-spacing="-0.35">5695000</text><text x="275.4" y="22.6" font-size="8" fill="#1e1e1e" text-anchor="start" letter-spacing="-0.35">310000</text><text x="296" y="36.2" font-size="8" fill="#1e1e1e" text-anchor="start" letter-spacing="-0.35">315000</text><text x="320" y="52" font-size="8" fill="#1e1e1e" text-anchor="start" letter-spacing="-0.35">320000</text><text x="346" y="68.4" font-size="8" fill="#1e1e1e" text-anchor="start" letter-spacing="-0.35">325000</text><text x="375.7" y="88.2" font-size="8" fill="#1e1e1e" text-anchor="start" letter-spacing="-0.35">330000</text><text x="410.5" y="109.5" font-size="8" fill="#1e1e1e" text-anchor="start" letter-spacing="-0.35">335000</text><text x="449.5" y="134.3" font-size="8" fill="#1e1e1e" text-anchor="start" letter-spacing="-0.35">340000</text><text x="494" y="163.6" font-size="8" fill="#1e1e1e" text-anchor="start" letter-spacing="-0.35">345000</text><text x="13.5" y="100" font-size="8" fill="#1e1e1e" text-anchor="start" letter-spacing="-0.35">0</text><text x="15" y="117" font-size="8" fill="#1e1e1e" text-anchor="start" letter-spacing="-0.35">1000</text><text x="24" y="133" font-size="8" fill="#1e1e1e" text-anchor="start" letter-spacing="-0.35">2000</text><text x="32" y="148.5" font-size="8" fill="#1e1e1e" text-anchor="start" letter-spacing="-0.35">3000</text><text x="29" y="152" font-size="8" fill="#1e1e1e" text-anchor="start" letter-spacing="-0.35">310000</text><text x="39" y="177" font-size="8" fill="#1e1e1e" text-anchor="start" letter-spacing="-0.35">315000</text><text x="49" y="202.5" font-size="8" fill="#1e1e1e" text-anchor="start" letter-spacing="-0.35">320000</text><text x="62" y="233.6" font-size="8" fill="#1e1e1e" text-anchor="start" letter-spacing="-0.35">325000</text><text x="75" y="269" font-size="8" fill="#1e1e1e" text-anchor="start" letter-spacing="-0.35">330000</text><text x="92.5" y="310.5" font-size="8" fill="#1e1e1e" text-anchor="start" letter-spacing="-0.35">335000</text><text x="112.5" y="359.5" font-size="8" fill="#1e1e1e" text-anchor="start" letter-spacing="-0.35">340000</text><text x="136" y="418" font-size="8" fill="#1e1e1e" text-anchor="start" letter-spacing="-0.35">345000</text><text x="288" y="438.5" font-size="8" fill="#1e1e1e" text-anchor="start" letter-spacing="-0.35">5680000</text><text x="379.5" y="388.7" font-size="8" fill="#1e1e1e" text-anchor="start" letter-spacing="-0.35">5685000</text><text x="455.7" y="345.7" font-size="8" fill="#1e1e1e" text-anchor="start" letter-spacing="-0.35">5690000</text><text x="524.5" y="308.4" font-size="8" fill="#1e1e1e" text-anchor="start" letter-spacing="-0.35">5695000</text><text x="565.7" y="238.8" font-size="8" fill="#1e1e1e" text-anchor="start" letter-spacing="-0.35">0</text><text x="558.4" y="257.6" font-size="8" fill="#1e1e1e" text-anchor="start" letter-spacing="-0.35">1000</text><text x="557.6" y="276" font-size="8" fill="#1e1e1e" text-anchor="start" letter-spacing="-0.35">2000</text><text x="557" y="294.4" font-size="8" fill="#1e1e1e" text-anchor="start" letter-spacing="-0.35">3000</text><g transform="translate(399.5 198.6) rotate(3.1)"><text x="0" y="0" font-size="8.6" font-style="italic" fill="#e8262a" stroke="#e8262a" stroke-width="0.15" transform="scale(1.58 1)">Aufsuchungsgebiet</text></g><g transform="translate(429.5 207) rotate(3.3)"><text x="0" y="0" font-size="8.6" font-style="italic" fill="#e8262a" stroke="#e8262a" stroke-width="0.15" transform="scale(1.58 1)">Duisburg</text></g>
<line x1="39.9" y1="446" x2="52.92199231643103" y2="440.08817526738716" stroke="#1a1a1a" stroke-width="0.9" /><polygon points="56.2,438.6 53.5834,441.545 52.2606,438.631" fill="#111" /><line x1="39.9" y1="446" x2="50.950765086131454" y2="453.735535560292" stroke="#1a1a1a" stroke-width="0.9" /><polygon points="53.9,455.8 50.0332,455.046 51.8683,452.425" fill="#111" /><line x1="39.9" y1="446" x2="39.72823442571345" y2="467.9001107215354" stroke="#1a1a1a" stroke-width="0.9" /><polygon points="39.7,471.5 38.1283,467.888 41.3282,467.913" fill="#111" /><circle cx="39.9" cy="446" r="2.5" fill="#e05418"/><text x="58.4" y="438" font-size="5.5" font-family="Liberation Serif" font-weight="bold" fill="#1a1a1a">N</text><text x="55.5" y="457.3" font-size="5.5" font-family="Liberation Serif" font-weight="bold" fill="#1a1a1a">E</text><text x="39.3" y="476.3" font-size="5.5" font-family="Liberation Serif" font-weight="bold" fill="#1a1a1a">Z</text>
</svg></body></html>
